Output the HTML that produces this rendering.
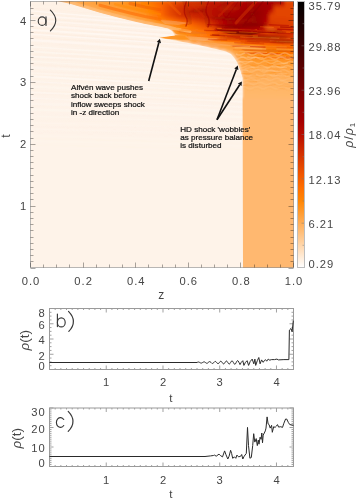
<!DOCTYPE html><html><head><meta charset="utf-8"><style>html,body{margin:0;padding:0;background:#fff;}svg{display:block}</style></head><body>
<svg width="357" height="499" viewBox="0 0 357 499" xmlns="http://www.w3.org/2000/svg">
<defs>
<linearGradient id="gtint" x1="0" y1="0" x2="0" y2="1"><stop offset="0" stop-color="#fde4d0" stop-opacity="0.12"/><stop offset="0.5" stop-color="#fde8d8" stop-opacity="0.05"/><stop offset="1" stop-color="#fef3e9" stop-opacity="0"/></linearGradient>
<linearGradient id="gcbar" x1="0" y1="0" x2="0" y2="1"><stop offset="0.000" stop-color="rgb(0,0,0)"/><stop offset="0.050" stop-color="rgb(18,0,0)"/><stop offset="0.100" stop-color="rgb(36,0,0)"/><stop offset="0.150" stop-color="rgb(55,0,0)"/><stop offset="0.200" stop-color="rgb(73,0,0)"/><stop offset="0.250" stop-color="rgb(92,0,0)"/><stop offset="0.300" stop-color="rgb(110,0,0)"/><stop offset="0.350" stop-color="rgb(129,0,0)"/><stop offset="0.400" stop-color="rgb(147,0,0)"/><stop offset="0.450" stop-color="rgb(166,0,0)"/><stop offset="0.500" stop-color="rgb(184,14,0)"/><stop offset="0.550" stop-color="rgb(203,38,0)"/><stop offset="0.600" stop-color="rgb(221,62,0)"/><stop offset="0.650" stop-color="rgb(240,86,0)"/><stop offset="0.700" stop-color="rgb(255,110,0)"/><stop offset="0.750" stop-color="rgb(255,134,4)"/><stop offset="0.800" stop-color="rgb(255,158,54)"/><stop offset="0.850" stop-color="rgb(255,182,104)"/><stop offset="0.900" stop-color="rgb(255,206,154)"/><stop offset="0.950" stop-color="rgb(255,230,204)"/><stop offset="1.000" stop-color="rgb(255,255,255)"/></linearGradient>
</defs>
<defs><linearGradient id="r0" gradientUnits="userSpaceOnUse" x1="50" y1="0" x2="298" y2="0"><stop offset="0.0000" stop-color="#ffddb8"/><stop offset="0.0262" stop-color="#ffddb8"/><stop offset="0.0423" stop-color="#ffaf58"/><stop offset="0.1210" stop-color="#ffa442"/><stop offset="0.2823" stop-color="#ff9626"/><stop offset="0.3629" stop-color="#ff8200"/><stop offset="0.4839" stop-color="#f25900"/><stop offset="0.5645" stop-color="#d83700"/><stop offset="0.6452" stop-color="#c41c00"/><stop offset="0.7661" stop-color="#b40800"/><stop offset="0.9113" stop-color="#a40000"/><stop offset="0.9395" stop-color="#aa0000"/><stop offset="0.9516" stop-color="#e34500"/><stop offset="1.0000" stop-color="#e34500"/></linearGradient>
<linearGradient id="r2" gradientUnits="userSpaceOnUse" x1="50" y1="0" x2="298" y2="0"><stop offset="0.0000" stop-color="#ffddb8"/><stop offset="0.0645" stop-color="#ffddb8"/><stop offset="0.0665" stop-color="#ffd9b0"/><stop offset="0.0806" stop-color="#ffac53"/><stop offset="0.0827" stop-color="#ffaa4e"/><stop offset="0.2823" stop-color="#ff9728"/><stop offset="0.3427" stop-color="#ff8a0b"/><stop offset="0.4032" stop-color="#ff7800"/><stop offset="0.5242" stop-color="#e04200"/><stop offset="0.6452" stop-color="#c11900"/><stop offset="0.8266" stop-color="#a90000"/><stop offset="0.8871" stop-color="#a60000"/><stop offset="0.9113" stop-color="#b60b00"/><stop offset="0.9395" stop-color="#ba1000"/><stop offset="0.9516" stop-color="#e34500"/><stop offset="1.0000" stop-color="#e34500"/></linearGradient>
<linearGradient id="r4" gradientUnits="userSpaceOnUse" x1="50" y1="0" x2="298" y2="0"><stop offset="0.0000" stop-color="#ffddb8"/><stop offset="0.0968" stop-color="#ffddb8"/><stop offset="0.1129" stop-color="#ffa84b"/><stop offset="0.1613" stop-color="#ffa647"/><stop offset="0.2823" stop-color="#ff982a"/><stop offset="0.3629" stop-color="#ff8706"/><stop offset="0.4032" stop-color="#ff7c00"/><stop offset="0.4435" stop-color="#fd6700"/><stop offset="0.4839" stop-color="#e94e00"/><stop offset="0.5242" stop-color="#db3b00"/><stop offset="0.6452" stop-color="#bf1600"/><stop offset="0.8266" stop-color="#a50000"/><stop offset="0.8871" stop-color="#a50000"/><stop offset="0.9113" stop-color="#c82200"/><stop offset="0.9395" stop-color="#ca2500"/><stop offset="0.9516" stop-color="#e34500"/><stop offset="1.0000" stop-color="#e34500"/></linearGradient>
<linearGradient id="r6" gradientUnits="userSpaceOnUse" x1="50" y1="0" x2="298" y2="0"><stop offset="0.0000" stop-color="#ffddb8"/><stop offset="0.1230" stop-color="#ffddb8"/><stop offset="0.1250" stop-color="#ffd9af"/><stop offset="0.1391" stop-color="#ffac52"/><stop offset="0.1411" stop-color="#ffaa4d"/><stop offset="0.1613" stop-color="#ffa94d"/><stop offset="0.2823" stop-color="#ff992c"/><stop offset="0.3427" stop-color="#ff8e15"/><stop offset="0.4032" stop-color="#ff8000"/><stop offset="0.4435" stop-color="#fd6700"/><stop offset="0.4839" stop-color="#e54800"/><stop offset="0.5242" stop-color="#d63400"/><stop offset="0.5645" stop-color="#cf2c00"/><stop offset="0.6250" stop-color="#c01700"/><stop offset="0.8266" stop-color="#a10000"/><stop offset="0.8871" stop-color="#a50000"/><stop offset="0.9113" stop-color="#da3900"/><stop offset="0.9395" stop-color="#db3a00"/><stop offset="0.9516" stop-color="#e34500"/><stop offset="1.0000" stop-color="#e34500"/></linearGradient>
<linearGradient id="r8" gradientUnits="userSpaceOnUse" x1="50" y1="0" x2="298" y2="0"><stop offset="0.0000" stop-color="#ffddb8"/><stop offset="0.1492" stop-color="#ffddb8"/><stop offset="0.1512" stop-color="#ffdbb4"/><stop offset="0.1653" stop-color="#ffae58"/><stop offset="0.1673" stop-color="#ffaa4f"/><stop offset="0.2903" stop-color="#ff9b2f"/><stop offset="0.3427" stop-color="#ff921c"/><stop offset="0.4032" stop-color="#ff8300"/><stop offset="0.4435" stop-color="#fd6800"/><stop offset="0.4839" stop-color="#e34600"/><stop offset="0.5242" stop-color="#d33100"/><stop offset="0.5645" stop-color="#ce2900"/><stop offset="0.6250" stop-color="#be1500"/><stop offset="0.8266" stop-color="#9f0000"/><stop offset="0.8710" stop-color="#a30000"/><stop offset="0.8871" stop-color="#ab0000"/><stop offset="0.8911" stop-color="#b50a00"/><stop offset="0.9113" stop-color="#e34500"/><stop offset="1.0000" stop-color="#e34500"/></linearGradient>
<linearGradient id="r10" gradientUnits="userSpaceOnUse" x1="50" y1="0" x2="298" y2="0"><stop offset="0.0000" stop-color="#ffddb8"/><stop offset="0.1774" stop-color="#ffddb8"/><stop offset="0.1935" stop-color="#ffa84a"/><stop offset="0.2903" stop-color="#ff9f38"/><stop offset="0.3831" stop-color="#ff8c11"/><stop offset="0.4032" stop-color="#ff8501"/><stop offset="0.4435" stop-color="#ff6900"/><stop offset="0.4839" stop-color="#e54800"/><stop offset="0.5242" stop-color="#d33100"/><stop offset="0.5645" stop-color="#cd2900"/><stop offset="0.6250" stop-color="#be1500"/><stop offset="0.7258" stop-color="#ab0000"/><stop offset="0.8266" stop-color="#9e0000"/><stop offset="0.8387" stop-color="#9e0000"/><stop offset="0.8710" stop-color="#a30000"/><stop offset="0.8871" stop-color="#b70c00"/><stop offset="0.8911" stop-color="#c21b00"/><stop offset="0.9113" stop-color="#e34500"/><stop offset="1.0000" stop-color="#e34500"/></linearGradient>
<linearGradient id="r12" gradientUnits="userSpaceOnUse" x1="50" y1="0" x2="298" y2="0"><stop offset="0.0000" stop-color="#ffddb8"/><stop offset="0.2036" stop-color="#ffddb8"/><stop offset="0.2056" stop-color="#ffdab1"/><stop offset="0.2198" stop-color="#ffab51"/><stop offset="0.2218" stop-color="#ffa84a"/><stop offset="0.2903" stop-color="#ffa442"/><stop offset="0.3831" stop-color="#ff9019"/><stop offset="0.4032" stop-color="#ff8604"/><stop offset="0.4435" stop-color="#ff6b00"/><stop offset="0.4839" stop-color="#e64900"/><stop offset="0.5242" stop-color="#d33100"/><stop offset="0.5645" stop-color="#cc2800"/><stop offset="0.7258" stop-color="#a80000"/><stop offset="0.8387" stop-color="#9c0000"/><stop offset="0.8710" stop-color="#a40000"/><stop offset="0.8871" stop-color="#c41c00"/><stop offset="0.8911" stop-color="#cf2c00"/><stop offset="0.9113" stop-color="#e34500"/><stop offset="1.0000" stop-color="#e34500"/></linearGradient>
<linearGradient id="r14" gradientUnits="userSpaceOnUse" x1="50" y1="0" x2="298" y2="0"><stop offset="0.0000" stop-color="#ffddb8"/><stop offset="0.2339" stop-color="#ffddb8"/><stop offset="0.2359" stop-color="#ffdab2"/><stop offset="0.2500" stop-color="#ffac54"/><stop offset="0.2520" stop-color="#ffa94d"/><stop offset="0.2903" stop-color="#ffa84b"/><stop offset="0.3831" stop-color="#ff9422"/><stop offset="0.4435" stop-color="#ff6d00"/><stop offset="0.4839" stop-color="#e74b00"/><stop offset="0.5242" stop-color="#d33100"/><stop offset="0.6048" stop-color="#c41c00"/><stop offset="0.7258" stop-color="#a60000"/><stop offset="0.8387" stop-color="#9b0000"/><stop offset="0.8710" stop-color="#a40000"/><stop offset="0.8911" stop-color="#dc3d00"/><stop offset="0.9113" stop-color="#e34500"/><stop offset="1.0000" stop-color="#e34500"/></linearGradient>
<linearGradient id="r16" gradientUnits="userSpaceOnUse" x1="50" y1="0" x2="298" y2="0"><stop offset="0.0000" stop-color="#ffddb8"/><stop offset="0.2641" stop-color="#ffddb8"/><stop offset="0.2661" stop-color="#ffdbb3"/><stop offset="0.2802" stop-color="#ffaf58"/><stop offset="0.2823" stop-color="#ffab50"/><stop offset="0.3831" stop-color="#ff992b"/><stop offset="0.4435" stop-color="#ff7400"/><stop offset="0.4839" stop-color="#ee5400"/><stop offset="0.5242" stop-color="#da3a00"/><stop offset="0.6048" stop-color="#c92300"/><stop offset="0.7258" stop-color="#a50000"/><stop offset="0.7863" stop-color="#9d0000"/><stop offset="0.8387" stop-color="#9a0000"/><stop offset="0.8548" stop-color="#9f0000"/><stop offset="0.8710" stop-color="#a70000"/><stop offset="0.8911" stop-color="#e24300"/><stop offset="1.0000" stop-color="#e24400"/></linearGradient>
<linearGradient id="r18" gradientUnits="userSpaceOnUse" x1="50" y1="0" x2="298" y2="0"><stop offset="0.0000" stop-color="#ffddb8"/><stop offset="0.2964" stop-color="#ffddb8"/><stop offset="0.2984" stop-color="#ffdcb6"/><stop offset="0.3145" stop-color="#ffa749"/><stop offset="0.3831" stop-color="#ff9e36"/><stop offset="0.4032" stop-color="#ff9624"/><stop offset="0.4435" stop-color="#ff7f00"/><stop offset="0.4839" stop-color="#fb6400"/><stop offset="0.5242" stop-color="#e84c00"/><stop offset="0.6250" stop-color="#cc2700"/><stop offset="0.7056" stop-color="#ab0000"/><stop offset="0.7258" stop-color="#a50000"/><stop offset="0.7863" stop-color="#990000"/><stop offset="0.8387" stop-color="#9a0000"/><stop offset="0.8548" stop-color="#9f0000"/><stop offset="0.8710" stop-color="#ad0000"/><stop offset="0.8871" stop-color="#d73600"/><stop offset="0.8911" stop-color="#df4000"/><stop offset="1.0000" stop-color="#e14200"/></linearGradient>
<linearGradient id="r20" gradientUnits="userSpaceOnUse" x1="50" y1="0" x2="298" y2="0"><stop offset="0.0000" stop-color="#ffddb8"/><stop offset="0.3306" stop-color="#ffddb8"/><stop offset="0.3327" stop-color="#ffd8ae"/><stop offset="0.3468" stop-color="#ffa84a"/><stop offset="0.3488" stop-color="#ffa646"/><stop offset="0.3831" stop-color="#ffa340"/><stop offset="0.4032" stop-color="#ff9e36"/><stop offset="0.4435" stop-color="#ff8b0f"/><stop offset="0.5242" stop-color="#f65e00"/><stop offset="0.5645" stop-color="#ea4f00"/><stop offset="0.6250" stop-color="#d53300"/><stop offset="0.7056" stop-color="#ad0000"/><stop offset="0.7863" stop-color="#950000"/><stop offset="0.8387" stop-color="#9b0000"/><stop offset="0.8548" stop-color="#9f0000"/><stop offset="0.8710" stop-color="#b30700"/><stop offset="0.8871" stop-color="#d83600"/><stop offset="0.8911" stop-color="#dd3d00"/><stop offset="0.9274" stop-color="#e04100"/><stop offset="1.0000" stop-color="#e04100"/></linearGradient>
<linearGradient id="r22" gradientUnits="userSpaceOnUse" x1="50" y1="0" x2="298" y2="0"><stop offset="0.0000" stop-color="#ffddb8"/><stop offset="0.3649" stop-color="#ffddb8"/><stop offset="0.3669" stop-color="#ffd9b1"/><stop offset="0.3810" stop-color="#ffab51"/><stop offset="0.3831" stop-color="#ffa84b"/><stop offset="0.4032" stop-color="#ffa747"/><stop offset="0.4435" stop-color="#ff9727"/><stop offset="0.5645" stop-color="#f75f00"/><stop offset="0.6250" stop-color="#de3f00"/><stop offset="0.7056" stop-color="#ae0000"/><stop offset="0.7863" stop-color="#910000"/><stop offset="0.8548" stop-color="#9f0000"/><stop offset="0.8710" stop-color="#b90e00"/><stop offset="0.8871" stop-color="#d83700"/><stop offset="0.8911" stop-color="#da3a00"/><stop offset="0.9274" stop-color="#de3f00"/><stop offset="1.0000" stop-color="#de3f00"/></linearGradient>
<linearGradient id="r24" gradientUnits="userSpaceOnUse" x1="50" y1="0" x2="298" y2="0"><stop offset="0.0000" stop-color="#ffddb8"/><stop offset="0.4032" stop-color="#ffddb8"/><stop offset="0.4052" stop-color="#ffdbb4"/><stop offset="0.4214" stop-color="#ffa543"/><stop offset="0.4839" stop-color="#ff8f17"/><stop offset="0.5242" stop-color="#ff7e00"/><stop offset="0.5645" stop-color="#ff6b00"/><stop offset="0.6250" stop-color="#e74a00"/><stop offset="0.7056" stop-color="#b30600"/><stop offset="0.7661" stop-color="#980000"/><stop offset="0.7863" stop-color="#920000"/><stop offset="0.8548" stop-color="#a40000"/><stop offset="0.8871" stop-color="#d83700"/><stop offset="0.9274" stop-color="#dd3d00"/><stop offset="1.0000" stop-color="#dd3d00"/></linearGradient>
<linearGradient id="r26" gradientUnits="userSpaceOnUse" x1="50" y1="0" x2="298" y2="0"><stop offset="0.0000" stop-color="#ffddb8"/><stop offset="0.4456" stop-color="#ffddb8"/><stop offset="0.4476" stop-color="#ffdcb6"/><stop offset="0.4637" stop-color="#ff9a2e"/><stop offset="0.5242" stop-color="#ff8706"/><stop offset="0.6250" stop-color="#ef5500"/><stop offset="0.6452" stop-color="#e44700"/><stop offset="0.7056" stop-color="#ba1000"/><stop offset="0.7661" stop-color="#980000"/><stop offset="0.7863" stop-color="#960000"/><stop offset="0.8266" stop-color="#a10000"/><stop offset="0.8548" stop-color="#ad0000"/><stop offset="0.8790" stop-color="#cf2c00"/><stop offset="0.8871" stop-color="#d83700"/><stop offset="0.9274" stop-color="#dc3c00"/><stop offset="1.0000" stop-color="#dc3c00"/></linearGradient>
<linearGradient id="r28" gradientUnits="userSpaceOnUse" x1="50" y1="0" x2="298" y2="0"><stop offset="0.0000" stop-color="#ffddb8"/><stop offset="0.4778" stop-color="#ffddb8"/><stop offset="0.4798" stop-color="#ffdab1"/><stop offset="0.4940" stop-color="#ff9e35"/><stop offset="0.4960" stop-color="#ff9829"/><stop offset="0.5242" stop-color="#ff9018"/><stop offset="0.5403" stop-color="#ff8909"/><stop offset="0.6250" stop-color="#f76000"/><stop offset="0.6452" stop-color="#ee5400"/><stop offset="0.7056" stop-color="#c21b00"/><stop offset="0.7661" stop-color="#990000"/><stop offset="0.7863" stop-color="#9a0000"/><stop offset="0.8266" stop-color="#a60000"/><stop offset="0.8548" stop-color="#b70c00"/><stop offset="0.8790" stop-color="#d33000"/><stop offset="0.8871" stop-color="#d83700"/><stop offset="0.9274" stop-color="#da3a00"/><stop offset="1.0000" stop-color="#da3a00"/></linearGradient>
<linearGradient id="r30" gradientUnits="userSpaceOnUse" x1="50" y1="0" x2="298" y2="0"><stop offset="0.0000" stop-color="#ffddb8"/><stop offset="0.4919" stop-color="#ffddb8"/><stop offset="0.5081" stop-color="#ff9c32"/><stop offset="0.5242" stop-color="#ff992b"/><stop offset="0.6452" stop-color="#f86100"/><stop offset="0.7056" stop-color="#ca2500"/><stop offset="0.7661" stop-color="#9a0000"/><stop offset="0.8266" stop-color="#ac0000"/><stop offset="0.8548" stop-color="#c01800"/><stop offset="0.8790" stop-color="#d73500"/><stop offset="0.8871" stop-color="#d83700"/><stop offset="1.0000" stop-color="#d93800"/></linearGradient>
<linearGradient id="r32" gradientUnits="userSpaceOnUse" x1="50" y1="0" x2="298" y2="0"><stop offset="0.0000" stop-color="#ffddb8"/><stop offset="0.4960" stop-color="#ffddb8"/><stop offset="0.4980" stop-color="#ffdbb3"/><stop offset="0.5121" stop-color="#ffa647"/><stop offset="0.5141" stop-color="#ffa13c"/><stop offset="0.5242" stop-color="#ff9f38"/><stop offset="0.5444" stop-color="#ff9727"/><stop offset="0.6452" stop-color="#ff6a00"/><stop offset="0.7056" stop-color="#d43100"/><stop offset="0.7661" stop-color="#a50000"/><stop offset="0.8266" stop-color="#b50a00"/><stop offset="0.8790" stop-color="#d83700"/><stop offset="1.0000" stop-color="#d83700"/></linearGradient>
<linearGradient id="r34" gradientUnits="userSpaceOnUse" x1="50" y1="0" x2="298" y2="0"><stop offset="0.0000" stop-color="#ffddb8"/><stop offset="0.5020" stop-color="#ffddb8"/><stop offset="0.5040" stop-color="#ffd8af"/><stop offset="0.5181" stop-color="#ffa748"/><stop offset="0.5202" stop-color="#ffa442"/><stop offset="0.5444" stop-color="#ff9d33"/><stop offset="0.6452" stop-color="#ff6f00"/><stop offset="0.7661" stop-color="#ba1000"/><stop offset="0.8266" stop-color="#c21b00"/><stop offset="0.8790" stop-color="#d83700"/><stop offset="1.0000" stop-color="#d63500"/></linearGradient>
<linearGradient id="r36" gradientUnits="userSpaceOnUse" x1="50" y1="0" x2="298" y2="0"><stop offset="0.0000" stop-color="#ffddb8"/><stop offset="0.5040" stop-color="#ffddb8"/><stop offset="0.5202" stop-color="#ffa84b"/><stop offset="0.5444" stop-color="#ffa23e"/><stop offset="0.6452" stop-color="#ff7500"/><stop offset="0.7661" stop-color="#d02d00"/><stop offset="0.8266" stop-color="#cf2c00"/><stop offset="0.8669" stop-color="#d53300"/><stop offset="0.8790" stop-color="#d83700"/><stop offset="1.0000" stop-color="#d53300"/></linearGradient>
<linearGradient id="r38" gradientUnits="userSpaceOnUse" x1="50" y1="0" x2="298" y2="0"><stop offset="0.0000" stop-color="#ffddb8"/><stop offset="0.5040" stop-color="#ffddb8"/><stop offset="0.5202" stop-color="#ffad54"/><stop offset="0.5444" stop-color="#ffa84a"/><stop offset="0.7258" stop-color="#f05700"/><stop offset="0.7661" stop-color="#e64900"/><stop offset="0.8669" stop-color="#d73600"/><stop offset="1.0000" stop-color="#d43100"/></linearGradient>
<linearGradient id="r40" gradientUnits="userSpaceOnUse" x1="50" y1="0" x2="298" y2="0"><stop offset="0.0000" stop-color="#ffddb8"/><stop offset="0.5141" stop-color="#ffddb8"/><stop offset="0.5161" stop-color="#ffdab1"/><stop offset="0.5302" stop-color="#ffb05b"/><stop offset="0.5323" stop-color="#ffad55"/><stop offset="0.5444" stop-color="#ffac52"/><stop offset="0.6653" stop-color="#ff7c00"/><stop offset="0.7258" stop-color="#fe6900"/><stop offset="0.7863" stop-color="#f45b00"/><stop offset="0.8669" stop-color="#e04100"/><stop offset="1.0000" stop-color="#da3900"/></linearGradient>
<linearGradient id="r42" gradientUnits="userSpaceOnUse" x1="50" y1="0" x2="298" y2="0"><stop offset="0.0000" stop-color="#ffddb8"/><stop offset="0.5585" stop-color="#ffddb8"/><stop offset="0.5746" stop-color="#ffa544"/><stop offset="0.5766" stop-color="#ffa443"/><stop offset="0.6653" stop-color="#ff8a0b"/><stop offset="0.7258" stop-color="#ff7a00"/><stop offset="0.7863" stop-color="#ff6d00"/><stop offset="0.8669" stop-color="#ef5500"/><stop offset="1.0000" stop-color="#e74a00"/></linearGradient>
<linearGradient id="r44" gradientUnits="userSpaceOnUse" x1="50" y1="0" x2="298" y2="0"><stop offset="0.0000" stop-color="#ffddb8"/><stop offset="0.5968" stop-color="#ffddb8"/><stop offset="0.5988" stop-color="#ffddb8"/><stop offset="0.6149" stop-color="#ffa340"/><stop offset="0.7863" stop-color="#ff7f00"/><stop offset="0.8669" stop-color="#ff6900"/><stop offset="1.0000" stop-color="#f45b00"/></linearGradient>
<linearGradient id="r46" gradientUnits="userSpaceOnUse" x1="50" y1="0" x2="298" y2="0"><stop offset="0.0000" stop-color="#ffddb8"/><stop offset="0.6331" stop-color="#ffddb8"/><stop offset="0.6351" stop-color="#ffd9b0"/><stop offset="0.6492" stop-color="#ffab50"/><stop offset="0.6512" stop-color="#ffa84b"/><stop offset="0.8065" stop-color="#ff8d12"/><stop offset="0.8871" stop-color="#ff7900"/><stop offset="1.0000" stop-color="#ff6c00"/></linearGradient>
<linearGradient id="r48" gradientUnits="userSpaceOnUse" x1="50" y1="0" x2="298" y2="0"><stop offset="0.0000" stop-color="#ffddb8"/><stop offset="0.6673" stop-color="#ffddb8"/><stop offset="0.6694" stop-color="#ffdbb4"/><stop offset="0.6835" stop-color="#ffb05a"/><stop offset="0.6855" stop-color="#ffac52"/><stop offset="0.8065" stop-color="#ff9624"/><stop offset="0.8871" stop-color="#ff8300"/><stop offset="1.0000" stop-color="#ff7600"/></linearGradient>
<linearGradient id="r50" gradientUnits="userSpaceOnUse" x1="50" y1="0" x2="298" y2="0"><stop offset="0.0000" stop-color="#ffddb8"/><stop offset="0.6996" stop-color="#ffddb8"/><stop offset="0.7016" stop-color="#ffdcb7"/><stop offset="0.7157" stop-color="#ffaf58"/><stop offset="0.7177" stop-color="#ffaa4e"/><stop offset="0.8266" stop-color="#ff8e15"/><stop offset="0.8871" stop-color="#ff8400"/><stop offset="1.0000" stop-color="#ff7a00"/></linearGradient>
<linearGradient id="r52" gradientUnits="userSpaceOnUse" x1="50" y1="0" x2="298" y2="0"><stop offset="0.0000" stop-color="#ffddb8"/><stop offset="0.7218" stop-color="#ffddb8"/><stop offset="0.7359" stop-color="#ffaa4f"/><stop offset="0.7661" stop-color="#ff9d34"/><stop offset="0.8266" stop-color="#ff8c10"/><stop offset="0.8871" stop-color="#ff8501"/><stop offset="1.0000" stop-color="#ff7d00"/></linearGradient>
<linearGradient id="r54" gradientUnits="userSpaceOnUse" x1="50" y1="0" x2="298" y2="0"><stop offset="0.0000" stop-color="#ffddb8"/><stop offset="0.7319" stop-color="#ffddb8"/><stop offset="0.7339" stop-color="#ffdbb4"/><stop offset="0.7460" stop-color="#ffaa4f"/><stop offset="0.7480" stop-color="#ffa645"/><stop offset="0.7661" stop-color="#ff9d34"/><stop offset="0.8266" stop-color="#ff8a0c"/><stop offset="1.0000" stop-color="#ff8000"/></linearGradient>
<linearGradient id="r56" gradientUnits="userSpaceOnUse" x1="50" y1="0" x2="298" y2="0"><stop offset="0.0000" stop-color="#ffddb8"/><stop offset="0.7399" stop-color="#ffddb8"/><stop offset="0.7440" stop-color="#ffce98"/><stop offset="0.7520" stop-color="#ffa94c"/><stop offset="0.7540" stop-color="#ffa544"/><stop offset="0.7823" stop-color="#ff992c"/><stop offset="0.8266" stop-color="#ff8c0f"/><stop offset="1.0000" stop-color="#ff8503"/></linearGradient>
<linearGradient id="r58" gradientUnits="userSpaceOnUse" x1="50" y1="0" x2="298" y2="0"><stop offset="0.0000" stop-color="#ffddb8"/><stop offset="0.7460" stop-color="#ffddb8"/><stop offset="0.7581" stop-color="#ffa646"/><stop offset="0.7823" stop-color="#ff9c32"/><stop offset="0.8266" stop-color="#ff911b"/><stop offset="1.0000" stop-color="#ff8c11"/></linearGradient>
<linearGradient id="r60" gradientUnits="userSpaceOnUse" x1="50" y1="0" x2="298" y2="0"><stop offset="0.0000" stop-color="#ffddb8"/><stop offset="0.7500" stop-color="#ffddb8"/><stop offset="0.7520" stop-color="#ffdab2"/><stop offset="0.7621" stop-color="#ffa749"/><stop offset="0.7823" stop-color="#ff9f38"/><stop offset="0.8468" stop-color="#ff9523"/><stop offset="1.0000" stop-color="#ff931f"/></linearGradient>
<linearGradient id="r62" gradientUnits="userSpaceOnUse" x1="50" y1="0" x2="298" y2="0"><stop offset="0.0000" stop-color="#ffddb8"/><stop offset="0.7540" stop-color="#ffddb8"/><stop offset="0.7560" stop-color="#ffdbb4"/><stop offset="0.7641" stop-color="#ffaf59"/><stop offset="0.7661" stop-color="#ffa94c"/><stop offset="0.7823" stop-color="#ffa23f"/><stop offset="0.8468" stop-color="#ff9b2e"/><stop offset="1.0000" stop-color="#ff9a2d"/></linearGradient>
<linearGradient id="r64" gradientUnits="userSpaceOnUse" x1="50" y1="0" x2="298" y2="0"><stop offset="0.0000" stop-color="#ffddb8"/><stop offset="0.7581" stop-color="#ffddb8"/><stop offset="0.7601" stop-color="#ffd6aa"/><stop offset="0.7661" stop-color="#ffb25f"/><stop offset="0.7681" stop-color="#ffab50"/><stop offset="0.7823" stop-color="#ffa544"/><stop offset="0.8468" stop-color="#ff9f37"/><stop offset="1.0000" stop-color="#ff9e36"/></linearGradient>
<linearGradient id="r66" gradientUnits="userSpaceOnUse" x1="50" y1="0" x2="298" y2="0"><stop offset="0.0000" stop-color="#ffddb8"/><stop offset="0.7621" stop-color="#ffddb8"/><stop offset="0.7681" stop-color="#ffb565"/><stop offset="0.7702" stop-color="#ffab51"/><stop offset="0.7823" stop-color="#ffa749"/><stop offset="0.8468" stop-color="#ffa23d"/><stop offset="1.0000" stop-color="#ffa13c"/></linearGradient>
<linearGradient id="r68" gradientUnits="userSpaceOnUse" x1="50" y1="0" x2="298" y2="0"><stop offset="0.0000" stop-color="#ffddb8"/><stop offset="0.7641" stop-color="#ffddb8"/><stop offset="0.7661" stop-color="#ffd7ac"/><stop offset="0.7702" stop-color="#ffb86c"/><stop offset="0.7722" stop-color="#ffac54"/><stop offset="0.7823" stop-color="#ffaa4e"/><stop offset="0.8468" stop-color="#ffa544"/><stop offset="1.0000" stop-color="#ffa341"/></linearGradient>
<linearGradient id="r70" gradientUnits="userSpaceOnUse" x1="50" y1="0" x2="298" y2="0"><stop offset="0.0000" stop-color="#ffddb8"/><stop offset="0.7681" stop-color="#ffddb8"/><stop offset="0.7742" stop-color="#ffae56"/><stop offset="0.8468" stop-color="#ffa84a"/><stop offset="1.0000" stop-color="#ffa646"/></linearGradient>
<linearGradient id="r72" gradientUnits="userSpaceOnUse" x1="50" y1="0" x2="298" y2="0"><stop offset="0.0000" stop-color="#ffddb8"/><stop offset="0.7702" stop-color="#ffddb8"/><stop offset="0.7722" stop-color="#ffd3a4"/><stop offset="0.7742" stop-color="#ffbd77"/><stop offset="0.7762" stop-color="#ffaf59"/><stop offset="0.8468" stop-color="#ffab50"/><stop offset="1.0000" stop-color="#ffa94b"/></linearGradient>
<linearGradient id="r74" gradientUnits="userSpaceOnUse" x1="50" y1="0" x2="298" y2="0"><stop offset="0.0000" stop-color="#ffddb8"/><stop offset="0.7722" stop-color="#ffddb8"/><stop offset="0.7742" stop-color="#ffd2a2"/><stop offset="0.7762" stop-color="#ffb769"/><stop offset="0.7782" stop-color="#ffb15d"/><stop offset="1.0000" stop-color="#ffab51"/></linearGradient>
<linearGradient id="r76" gradientUnits="userSpaceOnUse" x1="50" y1="0" x2="298" y2="0"><stop offset="0.0000" stop-color="#ffddb8"/><stop offset="0.7742" stop-color="#ffddb8"/><stop offset="0.7762" stop-color="#ffd4a6"/><stop offset="0.7782" stop-color="#ffba70"/><stop offset="0.7802" stop-color="#ffb361"/><stop offset="1.0000" stop-color="#ffae56"/></linearGradient>
<linearGradient id="r78" gradientUnits="userSpaceOnUse" x1="50" y1="0" x2="298" y2="0"><stop offset="0.0000" stop-color="#ffddb8"/><stop offset="0.7762" stop-color="#ffddb8"/><stop offset="0.7802" stop-color="#ffb464"/><stop offset="1.0000" stop-color="#ffaf5a"/></linearGradient>
<linearGradient id="r80" gradientUnits="userSpaceOnUse" x1="50" y1="0" x2="298" y2="0"><stop offset="0.0000" stop-color="#ffddb8"/><stop offset="0.7762" stop-color="#ffddb8"/><stop offset="0.7802" stop-color="#ffb565"/><stop offset="1.0000" stop-color="#ffb05c"/></linearGradient>
<linearGradient id="r82" gradientUnits="userSpaceOnUse" x1="50" y1="0" x2="298" y2="0"><stop offset="0.0000" stop-color="#ffddb8"/><stop offset="0.7762" stop-color="#ffddb8"/><stop offset="0.7802" stop-color="#ffb566"/><stop offset="1.0000" stop-color="#ffb15e"/></linearGradient>
<linearGradient id="r84" gradientUnits="userSpaceOnUse" x1="50" y1="0" x2="298" y2="0"><stop offset="0.0000" stop-color="#ffddb8"/><stop offset="0.7762" stop-color="#ffddb8"/><stop offset="0.7802" stop-color="#ffb667"/><stop offset="1.0000" stop-color="#ffb360"/></linearGradient>
<linearGradient id="r86" gradientUnits="userSpaceOnUse" x1="50" y1="0" x2="298" y2="0"><stop offset="0.0000" stop-color="#ffddb8"/><stop offset="0.7762" stop-color="#ffddb8"/><stop offset="0.7802" stop-color="#ffb668"/><stop offset="1.0000" stop-color="#ffb462"/></linearGradient>
<linearGradient id="r88" gradientUnits="userSpaceOnUse" x1="50" y1="0" x2="298" y2="0"><stop offset="0.0000" stop-color="#ffddb8"/><stop offset="0.7762" stop-color="#ffddb8"/><stop offset="0.7802" stop-color="#ffb769"/><stop offset="1.0000" stop-color="#ffb565"/></linearGradient>
<linearGradient id="r90" gradientUnits="userSpaceOnUse" x1="50" y1="0" x2="298" y2="0"><stop offset="0.0000" stop-color="#ffddb8"/><stop offset="0.7762" stop-color="#ffddb8"/><stop offset="0.7802" stop-color="#ffb76a"/><stop offset="1.0000" stop-color="#ffb667"/></linearGradient>
<linearGradient id="r92" gradientUnits="userSpaceOnUse" x1="50" y1="0" x2="298" y2="0"><stop offset="0.0000" stop-color="#ffddb8"/><stop offset="0.7762" stop-color="#ffddb8"/><stop offset="0.7802" stop-color="#ffb86b"/><stop offset="1.0000" stop-color="#ffb769"/></linearGradient>
<linearGradient id="r94" gradientUnits="userSpaceOnUse" x1="50" y1="0" x2="298" y2="0"><stop offset="0.0000" stop-color="#ffddb8"/><stop offset="0.7762" stop-color="#ffddb8"/><stop offset="0.7802" stop-color="#ffb86c"/><stop offset="1.0000" stop-color="#ffb86b"/></linearGradient>
<linearGradient id="r96" gradientUnits="userSpaceOnUse" x1="50" y1="0" x2="298" y2="0"><stop offset="0.0000" stop-color="#ffddb8"/><stop offset="0.7762" stop-color="#ffddb8"/><stop offset="0.7802" stop-color="#ffb86c"/><stop offset="1.0000" stop-color="#ffb86c"/></linearGradient>
<linearGradient id="r98" gradientUnits="userSpaceOnUse" x1="50" y1="0" x2="298" y2="0"><stop offset="0.0000" stop-color="#ffddb8"/><stop offset="0.7762" stop-color="#ffddb8"/><stop offset="0.7802" stop-color="#ffb86c"/><stop offset="1.0000" stop-color="#ffb86c"/></linearGradient></defs><clipPath id="ca"><rect x="30.5" y="1.5" width="263.0" height="266.0"/></clipPath>
<clipPath id="cw"><path d="M54,0.5 L59,1.5 L70,3.8 L85,8.3 L100,12.8 L115,16.8 L130,20.5 L145,24 L160,26.8 L168,28.5 L172,31 L175,35.5 L166,36.8 L159,37.7 L163,38.6 L175,40.5 L195,44.2 L215,48.8 L226,51.5 L231,54 L234,57.5 L237,62 L239,67 L241,72 L242.6,78 L242.6,100 L243,270 L296,270 L296,1 Z"/></clipPath>
<filter id="blur1" x="-5%" y="-5%" width="110%" height="110%"><feGaussianBlur stdDeviation="0.6"/></filter>
<filter id="blurh" x="-10%" y="-10%" width="120%" height="120%"><feGaussianBlur stdDeviation="1.5 0.8"/></filter>
<filter id="blurv" x="-5%" y="-5%" width="110%" height="110%"><feGaussianBlur stdDeviation="0.8 1.6"/></filter>
<g clip-path="url(#ca)">
<rect x="30.5" y="1.5" width="263.0" height="266.0" fill="#fef3e9"/>
<g filter="url(#blur1)">
<rect x="30.5" y="1.5" width="215" height="140" fill="url(#gtint)"/>
<path d="M31,8.0 Q136,16.9 243,26.0" stroke="#fbdcc4" stroke-width="1.2" fill="none" opacity="0.09"/>
<path d="M31,10.9 Q130,19.7 243,28.6" stroke="#fffaf6" stroke-width="1.1" fill="none" opacity="0.65"/>
<path d="M31,13.5 Q127,21.0 243,31.0" stroke="#fbdcc4" stroke-width="1.1" fill="none" opacity="0.06"/>
<path d="M31,15.4 Q148,23.2 243,32.7" stroke="#fffaf6" stroke-width="1.9" fill="none" opacity="0.57"/>
<path d="M31,18.0 Q144,26.0 243,35.0" stroke="#fbdcc4" stroke-width="1.1" fill="none" opacity="0.15"/>
<path d="M31,19.9 Q143,28.1 243,36.7" stroke="#fffaf6" stroke-width="1.5" fill="none" opacity="0.51"/>
<path d="M31,22.9 Q132,31.1 243,39.4" stroke="#fbdcc4" stroke-width="1.4" fill="none" opacity="0.11"/>
<path d="M31,24.7 Q127,32.4 243,41.0" stroke="#fffaf6" stroke-width="2.0" fill="none" opacity="0.53"/>
<path d="M31,27.7 Q142,34.6 243,43.7" stroke="#fbdcc4" stroke-width="1.4" fill="none" opacity="0.09"/>
<path d="M31,29.9 Q145,36.7 243,45.7" stroke="#fffaf6" stroke-width="1.8" fill="none" opacity="0.65"/>
<path d="M31,32.1 Q127,38.8 243,47.7" stroke="#fbdcc4" stroke-width="1.1" fill="none" opacity="0.13"/>
<path d="M31,34.1 Q137,40.7 243,49.5" stroke="#fffaf6" stroke-width="1.1" fill="none" opacity="0.59"/>
<path d="M31,37.1 Q138,43.7 243,52.2" stroke="#fbdcc4" stroke-width="1.4" fill="none" opacity="0.12"/>
<path d="M31,40.1 Q148,46.8 243,54.9" stroke="#fffaf6" stroke-width="2.3" fill="none" opacity="0.55"/>
<path d="M31,43.3 Q136,49.0 243,57.7" stroke="#fbdcc4" stroke-width="1.8" fill="none" opacity="0.05"/>
<path d="M31,46.8 Q137,53.9 243,61.0" stroke="#fffaf6" stroke-width="1.6" fill="none" opacity="0.47"/>
<path d="M31,49.5 Q112,55.3 243,63.4" stroke="#fbdcc4" stroke-width="1.1" fill="none" opacity="0.06"/>
<path d="M31,51.5 Q145,58.2 243,65.1" stroke="#fffaf6" stroke-width="1.6" fill="none" opacity="0.43"/>
<path d="M31,54.1 Q143,59.5 243,67.5" stroke="#fbdcc4" stroke-width="2.1" fill="none" opacity="0.08"/>
<path d="M31,56.4 Q145,61.5 243,69.6" stroke="#fffaf6" stroke-width="1.5" fill="none" opacity="0.47"/>
<path d="M31,58.4 Q119,64.1 243,71.3" stroke="#fbdcc4" stroke-width="1.3" fill="none" opacity="0.05"/>
<path d="M31,61.4 Q127,67.2 243,74.0" stroke="#fffaf6" stroke-width="1.0" fill="none" opacity="0.40"/>
<path d="M31,64.3 Q131,69.6 243,76.7" stroke="#fbdcc4" stroke-width="1.8" fill="none" opacity="0.10"/>
<path d="M31,67.6 Q141,72.3 243,79.6" stroke="#fffaf6" stroke-width="2.3" fill="none" opacity="0.32"/>
<path d="M31,71.1 Q114,76.0 243,82.8" stroke="#fbdcc4" stroke-width="1.5" fill="none" opacity="0.06"/>
<path d="M31,72.8 Q116,78.1 243,84.3" stroke="#fffaf6" stroke-width="1.3" fill="none" opacity="0.30"/>
<path d="M31,74.6 Q114,79.7 243,85.9" stroke="#fbdcc4" stroke-width="1.2" fill="none" opacity="0.03"/>
<path d="M31,76.2 Q116,81.4 243,87.4" stroke="#fffaf6" stroke-width="1.9" fill="none" opacity="0.49"/>
<path d="M31,78.7 Q144,82.6 243,89.6" stroke="#fbdcc4" stroke-width="1.1" fill="none" opacity="0.05"/>
<path d="M31,81.4 Q114,86.2 243,92.0" stroke="#fffaf6" stroke-width="1.1" fill="none" opacity="0.37"/>
<path d="M31,83.6 Q111,87.4 243,94.0" stroke="#fbdcc4" stroke-width="1.2" fill="none" opacity="0.07"/>
<path d="M31,86.5 Q111,90.8 243,96.6" stroke="#fffaf6" stroke-width="1.8" fill="none" opacity="0.27"/>
<path d="M31,90.4 Q120,94.7 243,100.2" stroke="#fbdcc4" stroke-width="1.8" fill="none" opacity="0.07"/>
<path d="M31,92.4 Q141,96.7 243,102.0" stroke="#fffaf6" stroke-width="1.8" fill="none" opacity="0.37"/>
<path d="M31,94.6 Q144,98.0 243,103.9" stroke="#fbdcc4" stroke-width="2.2" fill="none" opacity="0.06"/>
<path d="M31,98.1 Q131,102.1 243,107.1" stroke="#fffaf6" stroke-width="1.3" fill="none" opacity="0.33"/>
<path d="M31,99.8 Q120,103.2 243,108.6" stroke="#fbdcc4" stroke-width="1.3" fill="none" opacity="0.02"/>
<path d="M31,103.7 Q150,106.5 243,112.1" stroke="#fffaf6" stroke-width="2.4" fill="none" opacity="0.25"/>
<path d="M31,106.2 Q118,109.9 243,114.3" stroke="#fbdcc4" stroke-width="1.3" fill="none" opacity="0.03"/>
<path d="M31,109.3 Q129,112.2 243,117.1" stroke="#fffaf6" stroke-width="2.3" fill="none" opacity="0.29"/>
<path d="M31,112.8 Q146,115.4 243,120.3" stroke="#fbdcc4" stroke-width="1.8" fill="none" opacity="0.02"/>
<path d="M31,116.2 Q142,119.3 243,123.4" stroke="#fffaf6" stroke-width="1.3" fill="none" opacity="0.20"/>
<path d="M31,119.7 Q126,121.7 243,126.5" stroke="#fbdcc4" stroke-width="1.5" fill="none" opacity="0.04"/>
<path d="M31,123.0 Q116,124.9 243,129.5" stroke="#fffaf6" stroke-width="1.2" fill="none" opacity="0.13"/>
<path d="M31,126.6 Q149,128.7 243,132.7" stroke="#fbdcc4" stroke-width="2.0" fill="none" opacity="0.02"/>
<path d="M31,129.0 Q111,130.5 243,134.9" stroke="#fffaf6" stroke-width="1.2" fill="none" opacity="0.14"/>
<path d="M31,132.2 Q127,133.7 243,137.8" stroke="#fbdcc4" stroke-width="2.1" fill="none" opacity="0.02"/>
<path d="M31,135.8 Q122,138.0 243,141.0" stroke="#fffaf6" stroke-width="1.4" fill="none" opacity="0.09"/>
<path d="M31,138.8 Q115,139.9 243,143.7" stroke="#fbdcc4" stroke-width="1.5" fill="none" opacity="0.01"/>
<path d="M31,141.2 Q146,142.9 243,145.9" stroke="#fffaf6" stroke-width="1.9" fill="none" opacity="0.08"/>
<path d="M31,145.0 Q131,147.1 243,149.3" stroke="#fbdcc4" stroke-width="1.6" fill="none" opacity="0.01"/>
<path d="M31,147.7 Q142,149.4 243,151.7" stroke="#fffaf6" stroke-width="1.0" fill="none" opacity="0.04"/>
</g>
<g clip-path="url(#cw)"><g filter="url(#blurv)">
<rect x="40" y="0" width="260" height="2.2" fill="url(#r0)"/>
<rect x="40" y="2" width="260" height="2.2" fill="url(#r2)"/>
<rect x="40" y="4" width="260" height="2.2" fill="url(#r4)"/>
<rect x="40" y="6" width="260" height="2.2" fill="url(#r6)"/>
<rect x="40" y="8" width="260" height="2.2" fill="url(#r8)"/>
<rect x="40" y="10" width="260" height="2.2" fill="url(#r10)"/>
<rect x="40" y="12" width="260" height="2.2" fill="url(#r12)"/>
<rect x="40" y="14" width="260" height="2.2" fill="url(#r14)"/>
<rect x="40" y="16" width="260" height="2.2" fill="url(#r16)"/>
<rect x="40" y="18" width="260" height="2.2" fill="url(#r18)"/>
<rect x="40" y="20" width="260" height="2.2" fill="url(#r20)"/>
<rect x="40" y="22" width="260" height="2.2" fill="url(#r22)"/>
<rect x="40" y="24" width="260" height="2.2" fill="url(#r24)"/>
<rect x="40" y="26" width="260" height="2.2" fill="url(#r26)"/>
<rect x="40" y="28" width="260" height="2.2" fill="url(#r28)"/>
<rect x="40" y="30" width="260" height="2.2" fill="url(#r30)"/>
<rect x="40" y="32" width="260" height="2.2" fill="url(#r32)"/>
<rect x="40" y="34" width="260" height="2.2" fill="url(#r34)"/>
<rect x="40" y="36" width="260" height="2.2" fill="url(#r36)"/>
<rect x="40" y="38" width="260" height="2.2" fill="url(#r38)"/>
<rect x="40" y="40" width="260" height="2.2" fill="url(#r40)"/>
<rect x="40" y="42" width="260" height="2.2" fill="url(#r42)"/>
<rect x="40" y="44" width="260" height="2.2" fill="url(#r44)"/>
<rect x="40" y="46" width="260" height="2.2" fill="url(#r46)"/>
<rect x="40" y="48" width="260" height="2.2" fill="url(#r48)"/>
<rect x="40" y="50" width="260" height="2.2" fill="url(#r50)"/>
<rect x="40" y="52" width="260" height="2.2" fill="url(#r52)"/>
<rect x="40" y="54" width="260" height="2.2" fill="url(#r54)"/>
<rect x="40" y="56" width="260" height="2.2" fill="url(#r56)"/>
<rect x="40" y="58" width="260" height="2.2" fill="url(#r58)"/>
<rect x="40" y="60" width="260" height="2.2" fill="url(#r60)"/>
<rect x="40" y="62" width="260" height="2.2" fill="url(#r62)"/>
<rect x="40" y="64" width="260" height="2.2" fill="url(#r64)"/>
<rect x="40" y="66" width="260" height="2.2" fill="url(#r66)"/>
<rect x="40" y="68" width="260" height="2.2" fill="url(#r68)"/>
<rect x="40" y="70" width="260" height="2.2" fill="url(#r70)"/>
<rect x="40" y="72" width="260" height="2.2" fill="url(#r72)"/>
<rect x="40" y="74" width="260" height="2.2" fill="url(#r74)"/>
<rect x="40" y="76" width="260" height="2.2" fill="url(#r76)"/>
<rect x="40" y="78" width="260" height="2.2" fill="url(#r78)"/>
<rect x="40" y="80" width="260" height="2.2" fill="url(#r80)"/>
<rect x="40" y="82" width="260" height="2.2" fill="url(#r82)"/>
<rect x="40" y="84" width="260" height="2.2" fill="url(#r84)"/>
<rect x="40" y="86" width="260" height="2.2" fill="url(#r86)"/>
<rect x="40" y="88" width="260" height="2.2" fill="url(#r88)"/>
<rect x="40" y="90" width="260" height="2.2" fill="url(#r90)"/>
<rect x="40" y="92" width="260" height="2.2" fill="url(#r92)"/>
<rect x="40" y="94" width="260" height="2.2" fill="url(#r94)"/>
<rect x="40" y="96" width="260" height="2.2" fill="url(#r96)"/>
<rect x="40" y="98" width="260" height="2.2" fill="url(#r98)"/>
<rect x="240" y="98" width="60" height="175" fill="#ffb870"/>
</g><g filter="url(#blur1)">
<path d="M182,1 L186,1 L188,8 L191,16 L192,24 L188,25 L187,17 L184,8 Z" fill="#a02206" opacity="0.25"/>
<path d="M200,1 L205,1 L206,10 L210,20 L212,27 L206,27 L204,18 L201,8 Z" fill="#a02206" opacity="0.25"/>
<path d="M220,1 L226,1 L228,10 L232,20 L234,28 L228,27 L225,17 L222,8 Z" fill="#901e04" opacity="0.22"/>
<path d="M246,1 L252,1 L254,10 L256,18 L258,26 L252,25 L250,17 L247,8 Z" fill="#901e04" opacity="0.2"/>
<path d="M215,28.5 L232,30 L250,31.5 L266,32 L250,35 L232,34.5 L218,31 Z" fill="#6a1002" opacity="0.6"/>
<path d="M245,39 L270,38.5 L296,40 L296,43 L270,42.5 L250,42 Z" fill="#b03a10" opacity="0.45"/>
<path d="M240,48.5 L260,49 L280,49.5 L296,50 L296,52 L270,52 L245,51 Z" fill="#d05818" opacity="0.4"/>
<path d="M160,20 L175,21 L190,23 L178,25 L165,24 Z" fill="#fab070" opacity="0.45"/>
<path d="M159,37.8 L166,36.6 L175,35.2 L188,35.5 L190,39.5 L178,39.8 L166,38.7 Z" fill="#ff9018" opacity="0.9"/>
<path d="M172,30 L176,34 L186,35 L200,36.5 L200,33 L185,31 Z" fill="#ff8200" opacity="0.6"/>
<path d="M185,36 L200,37 L220,39 L205,41 L190,40 Z" fill="#fbb47a" opacity="0.45"/>
<path d="M196,41 L215,43 L235,46 L215,46.5 L200,44.5 Z" fill="#fbb47a" opacity="0.4"/>
<path d="M176,30 L195,31 L212,33.5 L195,34.5 L180,33 Z" fill="#e46a20" opacity="0.35"/>
<path d="M54.0,-1.1 L59.0,-0.1 L70.0,2.2 L85.0,6.7 L100.0,11.2 L115.0,15.2 L130.0,18.9 L145.0,22.4 L160.0,25.2 L168.0,26.9 L176.0,28.9 L190.0,31.4" stroke="#ffb86c" stroke-width="3.0" fill="none" opacity="0.75" stroke-linecap="round"/>
<path d="M100.0,5.3 L115.0,9.3 L130.0,13.0 L145.0,16.5 L160.0,19.3" stroke="#fd6700" stroke-width="3.2" fill="none" opacity="0.55" stroke-linecap="round"/>
<path d="M115.0,4.3 L130.0,8.0 L145.0,11.5 L160.0,14.3" stroke="#ff890a" stroke-width="2.6" fill="none" opacity="0.45" stroke-linecap="round"/>
<path d="M130.0,3.5 L145.0,7.0 L160.0,9.8" stroke="#ed5300" stroke-width="3" fill="none" opacity="0.4" stroke-linecap="round"/>
<line x1="239.6" y1="39.4" x2="279.3" y2="41.0" stroke="#ce2a00" stroke-width="1.3" opacity="0.41" stroke-linecap="round"/>
<line x1="247.3" y1="41.4" x2="283.1" y2="42.8" stroke="#d22f00" stroke-width="0.9" opacity="0.59" stroke-linecap="round"/>
<line x1="249.9" y1="56.8" x2="280.4" y2="58.0" stroke="#f76000" stroke-width="1.3" opacity="0.37" stroke-linecap="round"/>
<line x1="204.6" y1="30.5" x2="217.5" y2="31.0" stroke="#a60000" stroke-width="1.6" opacity="0.51" stroke-linecap="round"/>
<line x1="233.0" y1="45.8" x2="264.8" y2="47.0" stroke="#d33000" stroke-width="1.7" opacity="0.65" stroke-linecap="round"/>
<line x1="255.9" y1="52.6" x2="277.3" y2="53.4" stroke="#f25800" stroke-width="0.9" opacity="0.58" stroke-linecap="round"/>
<line x1="271.1" y1="37.6" x2="294.7" y2="38.6" stroke="#ff931e" stroke-width="0.8" opacity="0.41" stroke-linecap="round"/>
<line x1="186.0" y1="37.5" x2="216.9" y2="38.7" stroke="#ff9e37" stroke-width="0.9" opacity="0.45" stroke-linecap="round"/>
<line x1="261.4" y1="56.8" x2="276.9" y2="57.4" stroke="#f55d00" stroke-width="0.9" opacity="0.59" stroke-linecap="round"/>
<line x1="239.5" y1="30.0" x2="264.9" y2="31.1" stroke="#a00000" stroke-width="0.9" opacity="0.54" stroke-linecap="round"/>
<line x1="224.3" y1="28.0" x2="242.7" y2="28.7" stroke="#9b0000" stroke-width="1.5" opacity="0.44" stroke-linecap="round"/>
<line x1="248.6" y1="53.0" x2="263.6" y2="53.6" stroke="#ffb463" stroke-width="1.0" opacity="0.58" stroke-linecap="round"/>
<line x1="210.6" y1="35.2" x2="224.8" y2="35.8" stroke="#a30000" stroke-width="1.0" opacity="0.53" stroke-linecap="round"/>
<line x1="227.9" y1="36.6" x2="268.6" y2="38.3" stroke="#cc2800" stroke-width="1.6" opacity="0.40" stroke-linecap="round"/>
<line x1="277.9" y1="29.2" x2="314.5" y2="30.7" stroke="#ab0000" stroke-width="1.5" opacity="0.63" stroke-linecap="round"/>
<line x1="282.5" y1="30.7" x2="321.0" y2="32.2" stroke="#ff7300" stroke-width="0.9" opacity="0.36" stroke-linecap="round"/>
<line x1="268.6" y1="32.7" x2="298.5" y2="33.9" stroke="#ab0000" stroke-width="1.4" opacity="0.37" stroke-linecap="round"/>
<line x1="239.5" y1="31.8" x2="277.1" y2="33.3" stroke="#ff7600" stroke-width="1.6" opacity="0.41" stroke-linecap="round"/>
<line x1="207.6" y1="24.6" x2="233.0" y2="25.6" stroke="#ab0000" stroke-width="1.1" opacity="0.52" stroke-linecap="round"/>
<line x1="217.8" y1="28.5" x2="256.6" y2="30.0" stroke="#ff6e00" stroke-width="1.4" opacity="0.53" stroke-linecap="round"/>
<line x1="181.9" y1="28.8" x2="194.4" y2="29.3" stroke="#ff6d00" stroke-width="1.7" opacity="0.36" stroke-linecap="round"/>
<line x1="231.0" y1="45.6" x2="265.0" y2="47.0" stroke="#c41c00" stroke-width="0.9" opacity="0.51" stroke-linecap="round"/>
<line x1="277.0" y1="49.1" x2="311.1" y2="50.4" stroke="#ffa84b" stroke-width="1.6" opacity="0.46" stroke-linecap="round"/>
<line x1="277.1" y1="47.3" x2="315.2" y2="48.8" stroke="#e74b00" stroke-width="1.6" opacity="0.52" stroke-linecap="round"/>
<line x1="220.1" y1="45.2" x2="249.5" y2="46.4" stroke="#ffa23f" stroke-width="1.4" opacity="0.65" stroke-linecap="round"/>
<line x1="258.1" y1="53.9" x2="281.8" y2="54.9" stroke="#ffac54" stroke-width="1.2" opacity="0.60" stroke-linecap="round"/>
<line x1="260.5" y1="26.8" x2="273.4" y2="27.4" stroke="#ff7100" stroke-width="1.0" opacity="0.56" stroke-linecap="round"/>
<line x1="245.6" y1="40.9" x2="285.2" y2="42.5" stroke="#d83700" stroke-width="1.1" opacity="0.55" stroke-linecap="round"/>
<line x1="196.7" y1="30.9" x2="235.8" y2="32.5" stroke="#ff7200" stroke-width="1.6" opacity="0.45" stroke-linecap="round"/>
<line x1="278.6" y1="51.4" x2="317.0" y2="52.9" stroke="#eb5000" stroke-width="1.1" opacity="0.39" stroke-linecap="round"/>
<line x1="270.1" y1="40.9" x2="307.5" y2="42.4" stroke="#ff911a" stroke-width="1.0" opacity="0.40" stroke-linecap="round"/>
<line x1="208.3" y1="39.3" x2="226.7" y2="40.1" stroke="#cb2600" stroke-width="1.2" opacity="0.44" stroke-linecap="round"/>
<line x1="286.0" y1="52.5" x2="311.6" y2="53.6" stroke="#f75f00" stroke-width="1.6" opacity="0.36" stroke-linecap="round"/>
<line x1="240.8" y1="48.1" x2="262.0" y2="48.9" stroke="#ffb86b" stroke-width="0.9" opacity="0.49" stroke-linecap="round"/>
<line x1="269.3" y1="24.8" x2="288.4" y2="25.6" stroke="#ae0000" stroke-width="1.4" opacity="0.48" stroke-linecap="round"/>
<line x1="250.1" y1="45.4" x2="286.3" y2="46.9" stroke="#ff9625" stroke-width="1.0" opacity="0.49" stroke-linecap="round"/>
<line x1="179.2" y1="30.1" x2="205.4" y2="31.1" stroke="#ff7800" stroke-width="1.0" opacity="0.45" stroke-linecap="round"/>
<line x1="235.2" y1="47.7" x2="265.7" y2="48.9" stroke="#ffb05c" stroke-width="1.5" opacity="0.62" stroke-linecap="round"/>
<line x1="280.6" y1="27.0" x2="314.3" y2="28.3" stroke="#a50000" stroke-width="1.4" opacity="0.62" stroke-linecap="round"/>
<line x1="240.6" y1="36.8" x2="278.9" y2="38.3" stroke="#ff911a" stroke-width="1.2" opacity="0.55" stroke-linecap="round"/>
<line x1="257.4" y1="31.0" x2="294.0" y2="32.4" stroke="#ff6d00" stroke-width="1.0" opacity="0.62" stroke-linecap="round"/>
<line x1="285.5" y1="57.3" x2="313.6" y2="58.5" stroke="#ffb25f" stroke-width="1.6" opacity="0.61" stroke-linecap="round"/>
<line x1="187.1" y1="35.8" x2="212.3" y2="36.9" stroke="#ff6c00" stroke-width="1.2" opacity="0.36" stroke-linecap="round"/>
<line x1="214.9" y1="29.9" x2="250.5" y2="31.3" stroke="#ac0000" stroke-width="1.3" opacity="0.57" stroke-linecap="round"/>
<line x1="253.8" y1="52.6" x2="294.2" y2="54.2" stroke="#e44600" stroke-width="0.9" opacity="0.42" stroke-linecap="round"/>
<line x1="209.9" y1="41.9" x2="243.8" y2="43.3" stroke="#ff992c" stroke-width="1.6" opacity="0.52" stroke-linecap="round"/>
<line x1="219.9" y1="34.6" x2="257.3" y2="36.1" stroke="#ff7700" stroke-width="1.6" opacity="0.64" stroke-linecap="round"/>
<line x1="241.0" y1="41.8" x2="259.1" y2="42.5" stroke="#ce2a00" stroke-width="1.3" opacity="0.36" stroke-linecap="round"/>
<line x1="239.9" y1="51.2" x2="266.6" y2="52.3" stroke="#ffb769" stroke-width="1.3" opacity="0.47" stroke-linecap="round"/>
<line x1="279.6" y1="56.5" x2="299.7" y2="57.3" stroke="#f55d00" stroke-width="1.2" opacity="0.59" stroke-linecap="round"/>
<line x1="246.0" y1="30.5" x2="285.7" y2="32.1" stroke="#9f0000" stroke-width="0.8" opacity="0.41" stroke-linecap="round"/>
<line x1="253.6" y1="31.7" x2="275.2" y2="32.6" stroke="#a20000" stroke-width="0.9" opacity="0.57" stroke-linecap="round"/>
<line x1="234.2" y1="28.2" x2="253.7" y2="29.0" stroke="#a40000" stroke-width="1.2" opacity="0.46" stroke-linecap="round"/>
<line x1="236.2" y1="38.1" x2="253.0" y2="38.7" stroke="#cb2600" stroke-width="1.4" opacity="0.51" stroke-linecap="round"/>
<line x1="245.3" y1="52.9" x2="283.0" y2="54.5" stroke="#e84c00" stroke-width="1.5" opacity="0.62" stroke-linecap="round"/>
<line x1="212.6" y1="34.7" x2="252.3" y2="36.3" stroke="#9a0000" stroke-width="1.6" opacity="0.39" stroke-linecap="round"/>
<line x1="257.9" y1="32.1" x2="277.7" y2="32.9" stroke="#9d0000" stroke-width="1.2" opacity="0.59" stroke-linecap="round"/>
<line x1="222.3" y1="28.3" x2="254.9" y2="29.6" stroke="#ab0000" stroke-width="1.4" opacity="0.62" stroke-linecap="round"/>
<line x1="233.3" y1="49.8" x2="265.9" y2="51.1" stroke="#f65e00" stroke-width="0.9" opacity="0.36" stroke-linecap="round"/>
<line x1="234.6" y1="42.8" x2="263.7" y2="43.9" stroke="#d53200" stroke-width="1.0" opacity="0.60" stroke-linecap="round"/>
<line x1="280.0" y1="57.7" x2="294.8" y2="58.3" stroke="#e44600" stroke-width="1.2" opacity="0.58" stroke-linecap="round"/>
<line x1="261.7" y1="66.4" x2="274.9" y2="67.2" stroke="#ffc383" stroke-width="1.3" opacity="0.24" stroke-linecap="round"/>
<line x1="246.0" y1="86.1" x2="258.3" y2="84.8" stroke="#ff8b0f" stroke-width="1.3" opacity="0.08" stroke-linecap="round"/>
<line x1="236.8" y1="73.5" x2="255.4" y2="74.2" stroke="#ff8300" stroke-width="1.3" opacity="0.33" stroke-linecap="round"/>
<line x1="269.0" y1="69.4" x2="282.0" y2="71.0" stroke="#ff8100" stroke-width="1.3" opacity="0.27" stroke-linecap="round"/>
<line x1="278.8" y1="82.3" x2="296.2" y2="83.3" stroke="#ffbd76" stroke-width="1.3" opacity="0.19" stroke-linecap="round"/>
<line x1="278.1" y1="83.2" x2="289.8" y2="83.0" stroke="#ff9422" stroke-width="1.3" opacity="0.13" stroke-linecap="round"/>
<line x1="255.6" y1="54.4" x2="270.5" y2="55.1" stroke="#ff9019" stroke-width="1.3" opacity="0.67" stroke-linecap="round"/>
<line x1="272.3" y1="66.8" x2="286.3" y2="67.4" stroke="#ffc78c" stroke-width="1.3" opacity="0.48" stroke-linecap="round"/>
<line x1="277.9" y1="80.6" x2="297.6" y2="79.2" stroke="#ffc382" stroke-width="1.3" opacity="0.20" stroke-linecap="round"/>
<line x1="238.8" y1="69.3" x2="247.5" y2="70.3" stroke="#ffcd98" stroke-width="1.3" opacity="0.27" stroke-linecap="round"/>
<line x1="263.9" y1="74.9" x2="283.5" y2="76.7" stroke="#ffbb72" stroke-width="1.3" opacity="0.27" stroke-linecap="round"/>
<line x1="268.9" y1="56.9" x2="285.5" y2="56.8" stroke="#ffbc75" stroke-width="1.3" opacity="0.38" stroke-linecap="round"/>
<line x1="263.3" y1="60.4" x2="277.8" y2="60.5" stroke="#ffbc74" stroke-width="1.3" opacity="0.42" stroke-linecap="round"/>
<line x1="256.1" y1="76.7" x2="266.1" y2="77.4" stroke="#ff8706" stroke-width="1.3" opacity="0.19" stroke-linecap="round"/>
<line x1="236.8" y1="65.2" x2="246.2" y2="64.9" stroke="#ffcc95" stroke-width="1.3" opacity="0.44" stroke-linecap="round"/>
<line x1="277.2" y1="88.1" x2="283.9" y2="88.9" stroke="#ff7d00" stroke-width="1.3" opacity="0.08" stroke-linecap="round"/>
<line x1="262.3" y1="70.3" x2="281.9" y2="71.6" stroke="#ffc586" stroke-width="1.3" opacity="0.40" stroke-linecap="round"/>
<line x1="289.8" y1="71.8" x2="307.3" y2="71.6" stroke="#ff931f" stroke-width="1.3" opacity="0.32" stroke-linecap="round"/>
<line x1="238.9" y1="61.7" x2="252.3" y2="61.6" stroke="#ffc689" stroke-width="1.3" opacity="0.47" stroke-linecap="round"/>
<line x1="268.0" y1="64.0" x2="279.9" y2="65.6" stroke="#ff8808" stroke-width="1.3" opacity="0.53" stroke-linecap="round"/>
<line x1="249.1" y1="81.9" x2="256.7" y2="81.6" stroke="#ff8100" stroke-width="1.3" opacity="0.17" stroke-linecap="round"/>
<line x1="273.7" y1="64.3" x2="287.6" y2="63.0" stroke="#ffc281" stroke-width="1.3" opacity="0.46" stroke-linecap="round"/>
<line x1="289.9" y1="63.5" x2="308.7" y2="62.2" stroke="#ff9524" stroke-width="1.3" opacity="0.28" stroke-linecap="round"/>
<line x1="270.3" y1="70.2" x2="277.7" y2="70.6" stroke="#ffce99" stroke-width="1.3" opacity="0.23" stroke-linecap="round"/>
<line x1="270.7" y1="74.9" x2="281.9" y2="75.7" stroke="#ffcb93" stroke-width="1.3" opacity="0.22" stroke-linecap="round"/>
<line x1="240.1" y1="85.9" x2="247.8" y2="85.2" stroke="#ff8503" stroke-width="1.3" opacity="0.13" stroke-linecap="round"/>
<line x1="250.2" y1="70.1" x2="267.5" y2="69.2" stroke="#ffc280" stroke-width="1.3" opacity="0.42" stroke-linecap="round"/>
<line x1="277.0" y1="74.8" x2="295.9" y2="77.0" stroke="#ffc88c" stroke-width="1.3" opacity="0.18" stroke-linecap="round"/>
<line x1="240.6" y1="57.0" x2="254.5" y2="58.1" stroke="#ffc17f" stroke-width="1.3" opacity="0.42" stroke-linecap="round"/>
<line x1="247.7" y1="56.9" x2="263.0" y2="57.8" stroke="#ffc98f" stroke-width="1.3" opacity="0.56" stroke-linecap="round"/>
<line x1="243.9" y1="64.8" x2="254.9" y2="65.4" stroke="#ff8c11" stroke-width="1.3" opacity="0.29" stroke-linecap="round"/>
<line x1="286.5" y1="75.6" x2="305.7" y2="74.5" stroke="#ff8b0d" stroke-width="1.3" opacity="0.29" stroke-linecap="round"/>
<line x1="258.0" y1="66.1" x2="277.1" y2="65.3" stroke="#ff9018" stroke-width="1.3" opacity="0.33" stroke-linecap="round"/>
<line x1="257.8" y1="67.8" x2="269.2" y2="67.9" stroke="#ffc484" stroke-width="1.3" opacity="0.41" stroke-linecap="round"/>
<line x1="267.0" y1="85.8" x2="275.4" y2="84.6" stroke="#ff7e00" stroke-width="1.3" opacity="0.09" stroke-linecap="round"/>
<line x1="265.9" y1="73.6" x2="279.9" y2="71.8" stroke="#ff8501" stroke-width="1.3" opacity="0.32" stroke-linecap="round"/>
<line x1="279.3" y1="74.8" x2="286.5" y2="73.9" stroke="#ffc07d" stroke-width="1.3" opacity="0.32" stroke-linecap="round"/>
<line x1="243.9" y1="78.1" x2="260.4" y2="79.4" stroke="#ff9018" stroke-width="1.3" opacity="0.17" stroke-linecap="round"/>
<line x1="278.1" y1="73.8" x2="289.6" y2="73.8" stroke="#ffbc73" stroke-width="1.3" opacity="0.30" stroke-linecap="round"/>
<line x1="275.7" y1="74.4" x2="291.6" y2="75.2" stroke="#ff8b0f" stroke-width="1.3" opacity="0.31" stroke-linecap="round"/>
<line x1="280.3" y1="86.4" x2="298.0" y2="86.6" stroke="#ff7c00" stroke-width="1.3" opacity="0.11" stroke-linecap="round"/>
<line x1="280.1" y1="81.0" x2="292.0" y2="82.7" stroke="#ffcc96" stroke-width="1.3" opacity="0.20" stroke-linecap="round"/>
<line x1="245.2" y1="68.3" x2="254.1" y2="67.1" stroke="#ffc990" stroke-width="1.3" opacity="0.44" stroke-linecap="round"/>
<line x1="242.3" y1="65.7" x2="257.4" y2="65.5" stroke="#ff921c" stroke-width="1.3" opacity="0.26" stroke-linecap="round"/>
<line x1="286.0" y1="76.2" x2="292.5" y2="75.7" stroke="#ffcc94" stroke-width="1.3" opacity="0.19" stroke-linecap="round"/>
<g filter="url(#blurh)">
<ellipse cx="197" cy="11" rx="9" ry="1.4" transform="rotate(-5 197 11)" fill="#8a1000" opacity="0.45"/>
<ellipse cx="225" cy="18.5" rx="15" ry="1.5" transform="rotate(3 225 18.5)" fill="#8a1000" opacity="0.45"/>
<ellipse cx="228" cy="26.5" rx="13" ry="1.4" transform="rotate(3 228 26.5)" fill="#7a0c00" opacity="0.5"/>
<ellipse cx="252" cy="14" rx="10" ry="1.3" transform="rotate(-8 252 14)" fill="#8a1000" opacity="0.35"/>
<ellipse cx="256" cy="25" rx="12" ry="1.3" transform="rotate(2 256 25)" fill="#7a0c00" opacity="0.45"/>
<ellipse cx="276" cy="31.5" rx="10" ry="1.2" transform="rotate(8 276 31.5)" fill="#8a1400" opacity="0.4"/>
<ellipse cx="200" cy="5" rx="9" ry="3" transform="rotate(0 200 5)" fill="#d84a14" opacity="0.25"/>
<ellipse cx="228" cy="9" rx="10" ry="3.5" transform="rotate(0 228 9)" fill="#c83c10" opacity="0.2"/>
<ellipse cx="270" cy="28.5" rx="6" ry="1.6" transform="rotate(10 270 28.5)" fill="#f08028" opacity="0.45"/>
<ellipse cx="245" cy="21" rx="10" ry="1.5" transform="rotate(-10 245 21)" fill="#c03010" opacity="0.3"/>
<ellipse cx="266" cy="37" rx="22" ry="1.4" transform="rotate(1 266 37)" fill="#7a1000" opacity="0.5"/>
<ellipse cx="284" cy="42" rx="14" ry="1.2" transform="rotate(2 284 42)" fill="#8a1400" opacity="0.45"/>
<ellipse cx="232" cy="38.5" rx="12" ry="1.1" transform="rotate(3 232 38.5)" fill="#a02000" opacity="0.35"/>
<ellipse cx="225" cy="44" rx="14" ry="1.2" transform="rotate(4 225 44)" fill="#fbb070" opacity="0.5"/>
<ellipse cx="250" cy="46.5" rx="14" ry="1.1" transform="rotate(2 250 46.5)" fill="#fcb878" opacity="0.45"/>
<ellipse cx="205" cy="40.5" rx="10" ry="1.1" transform="rotate(8 205 40.5)" fill="#fcc08a" opacity="0.45"/>
<ellipse cx="275" cy="47.5" rx="14" ry="1.2" transform="rotate(1 275 47.5)" fill="#e06a20" opacity="0.4"/>
</g>
<g filter="url(#blur1)">
<path d="M236.0,54.00 L237.5,54.73 L239.0,55.09 L240.5,54.91 L242.0,54.26 L243.5,53.49 L245.0,52.97 L246.5,52.97 L248.0,53.49 L249.5,54.26 L251.0,54.91 L252.5,55.09 L254.0,54.73 L255.5,54.00 L257.0,53.27 L258.5,52.91 L260.0,53.09 L261.5,53.74 L263.0,54.51 L264.5,55.03 L266.0,55.03 L267.5,54.51 L269.0,53.74 L270.5,53.09 L272.0,52.91 L273.5,53.27 L275.0,54.00 L276.5,54.73 L278.0,55.09 L279.5,54.91 L281.0,54.26 L282.5,53.49 L284.0,52.97 L285.5,52.97 L287.0,53.49 L288.5,54.26 L290.0,54.91 L291.5,55.09 L293.0,54.73 L294.5,54.00 L296.0,53.27" stroke="#ffcd98" stroke-width="1.5" fill="none" opacity="0.45"/>
<path d="M236.0,56.10 L237.5,56.83 L239.0,57.19 L240.5,57.01 L242.0,56.36 L243.5,55.59 L245.0,55.07 L246.5,55.07 L248.0,55.59 L249.5,56.36 L251.0,57.01 L252.5,57.19 L254.0,56.83 L255.5,56.10 L257.0,55.37 L258.5,55.01 L260.0,55.19 L261.5,55.84 L263.0,56.61 L264.5,57.13 L266.0,57.13 L267.5,56.61 L269.0,55.84 L270.5,55.19 L272.0,55.01 L273.5,55.37 L275.0,56.10 L276.5,56.83 L278.0,57.19 L279.5,57.01 L281.0,56.36 L282.5,55.59 L284.0,55.07 L285.5,55.07 L287.0,55.59 L288.5,56.36 L290.0,57.01 L291.5,57.19 L293.0,56.83 L294.5,56.10 L296.0,55.37" stroke="#f79a48" stroke-width="1.0" fill="none" opacity="0.23"/>
<path d="M236.0,59.29 L237.5,58.92 L239.0,58.19 L240.5,57.46 L242.0,57.11 L243.5,57.30 L245.0,57.95 L246.5,58.72 L248.0,59.23 L249.5,59.23 L251.0,58.70 L252.5,57.93 L254.0,57.29 L255.5,57.11 L257.0,57.48 L258.5,58.21 L260.0,58.94 L261.5,59.29 L263.0,59.10 L264.5,58.45 L266.0,57.68 L267.5,57.17 L269.0,57.17 L270.5,57.70 L272.0,58.47 L273.5,59.11 L275.0,59.29 L276.5,58.92 L278.0,58.19 L279.5,57.46 L281.0,57.11 L282.5,57.30 L284.0,57.95 L285.5,58.72 L287.0,59.23 L288.5,59.23 L290.0,58.70 L291.5,57.93 L293.0,57.29 L294.5,57.11 L296.0,57.48" stroke="#ffcd98" stroke-width="1.5" fill="none" opacity="0.41"/>
<path d="M236.0,61.39 L237.5,61.02 L239.0,60.29 L240.5,59.56 L242.0,59.21 L243.5,59.40 L245.0,60.05 L246.5,60.82 L248.0,61.33 L249.5,61.33 L251.0,60.80 L252.5,60.03 L254.0,59.39 L255.5,59.21 L257.0,59.58 L258.5,60.31 L260.0,61.04 L261.5,61.39 L263.0,61.20 L264.5,60.55 L266.0,59.78 L267.5,59.27 L269.0,59.27 L270.5,59.80 L272.0,60.57 L273.5,61.21 L275.0,61.39 L276.5,61.02 L278.0,60.29 L279.5,59.56 L281.0,59.21 L282.5,59.40 L284.0,60.05 L285.5,60.82 L287.0,61.33 L288.5,61.33 L290.0,60.80 L291.5,60.03 L293.0,59.39 L294.5,59.21 L296.0,59.58" stroke="#f79a48" stroke-width="1.0" fill="none" opacity="0.21"/>
<path d="M236.0,62.12 L237.5,61.48 L239.0,61.31 L240.5,61.68 L242.0,62.42 L243.5,63.14 L245.0,63.49 L246.5,63.29 L248.0,62.65 L249.5,61.87 L251.0,61.37 L252.5,61.38 L254.0,61.91 L255.5,62.68 L257.0,63.32 L258.5,63.49 L260.0,63.12 L261.5,62.38 L263.0,61.66 L264.5,61.31 L266.0,61.51 L267.5,62.15 L269.0,62.93 L270.5,63.43 L272.0,63.42 L273.5,62.89 L275.0,62.12 L276.5,61.48 L278.0,61.31 L279.5,61.68 L281.0,62.42 L282.5,63.14 L284.0,63.49 L285.5,63.29 L287.0,62.65 L288.5,61.87 L290.0,61.37 L291.5,61.38 L293.0,61.91 L294.5,62.68 L296.0,63.32" stroke="#ffcd98" stroke-width="1.5" fill="none" opacity="0.37"/>
<path d="M236.0,64.22 L237.5,63.58 L239.0,63.41 L240.5,63.78 L242.0,64.52 L243.5,65.24 L245.0,65.59 L246.5,65.39 L248.0,64.75 L249.5,63.97 L251.0,63.47 L252.5,63.48 L254.0,64.01 L255.5,64.78 L257.0,65.42 L258.5,65.59 L260.0,65.22 L261.5,64.48 L263.0,63.76 L264.5,63.41 L266.0,63.61 L267.5,64.25 L269.0,65.03 L270.5,65.53 L272.0,65.52 L273.5,64.99 L275.0,64.22 L276.5,63.58 L278.0,63.41 L279.5,63.78 L281.0,64.52 L282.5,65.24 L284.0,65.59 L285.5,65.39 L287.0,64.75 L288.5,63.97 L290.0,63.47 L291.5,63.48 L293.0,64.01 L294.5,64.78 L296.0,65.42" stroke="#f79a48" stroke-width="1.0" fill="none" opacity="0.18"/>
<path d="M236.0,65.58 L237.5,66.11 L239.0,66.89 L240.5,67.52 L242.0,67.69 L243.5,67.31 L245.0,66.57 L246.5,65.85 L248.0,65.51 L249.5,65.71 L251.0,66.36 L252.5,67.14 L254.0,67.64 L255.5,67.62 L257.0,67.09 L258.5,66.31 L260.0,65.68 L261.5,65.51 L263.0,65.89 L264.5,66.63 L266.0,67.35 L267.5,67.69 L269.0,67.49 L270.5,66.84 L272.0,66.06 L273.5,65.56 L275.0,65.58 L276.5,66.11 L278.0,66.89 L279.5,67.52 L281.0,67.69 L282.5,67.31 L284.0,66.57 L285.5,65.85 L287.0,65.51 L288.5,65.71 L290.0,66.36 L291.5,67.14 L293.0,67.64 L294.5,67.62 L296.0,67.09" stroke="#ffcd98" stroke-width="1.5" fill="none" opacity="0.33"/>
<path d="M236.0,67.68 L237.5,68.21 L239.0,68.99 L240.5,69.62 L242.0,69.79 L243.5,69.41 L245.0,68.67 L246.5,67.95 L248.0,67.61 L249.5,67.81 L251.0,68.46 L252.5,69.24 L254.0,69.74 L255.5,69.72 L257.0,69.19 L258.5,68.41 L260.0,67.78 L261.5,67.61 L263.0,67.99 L264.5,68.73 L266.0,69.45 L267.5,69.79 L269.0,69.59 L270.5,68.94 L272.0,68.16 L273.5,67.66 L275.0,67.68 L276.5,68.21 L278.0,68.99 L279.5,69.62 L281.0,69.79 L282.5,69.41 L284.0,68.67 L285.5,67.95 L287.0,67.61 L288.5,67.81 L290.0,68.46 L291.5,69.24 L293.0,69.74 L294.5,69.72 L296.0,69.19" stroke="#f79a48" stroke-width="1.0" fill="none" opacity="0.17"/>
<path d="M236.0,71.34 L237.5,71.84 L239.0,71.81 L240.5,71.28 L242.0,70.50 L243.5,69.87 L245.0,69.71 L246.5,70.10 L248.0,70.84 L249.5,71.56 L251.0,71.90 L252.5,71.68 L254.0,71.03 L255.5,70.26 L257.0,69.76 L258.5,69.79 L260.0,70.32 L261.5,71.10 L263.0,71.73 L264.5,71.89 L266.0,71.50 L267.5,70.76 L269.0,70.04 L270.5,69.70 L272.0,69.92 L273.5,70.57 L275.0,71.34 L276.5,71.84 L278.0,71.81 L279.5,71.28 L281.0,70.50 L282.5,69.87 L284.0,69.71 L285.5,70.10 L287.0,70.84 L288.5,71.56 L290.0,71.90 L291.5,71.68 L293.0,71.03 L294.5,70.26 L296.0,69.76" stroke="#ffcd98" stroke-width="1.5" fill="none" opacity="0.29"/>
<path d="M236.0,73.44 L237.5,73.94 L239.0,73.91 L240.5,73.38 L242.0,72.60 L243.5,71.97 L245.0,71.81 L246.5,72.20 L248.0,72.94 L249.5,73.66 L251.0,74.00 L252.5,73.78 L254.0,73.13 L255.5,72.36 L257.0,71.86 L258.5,71.89 L260.0,72.42 L261.5,73.20 L263.0,73.83 L264.5,73.99 L266.0,73.60 L267.5,72.86 L269.0,72.14 L270.5,71.80 L272.0,72.02 L273.5,72.67 L275.0,73.44 L276.5,73.94 L278.0,73.91 L279.5,73.38 L281.0,72.60 L282.5,71.97 L284.0,71.81 L285.5,72.20 L287.0,72.94 L288.5,73.66 L290.0,74.00 L291.5,73.78 L293.0,73.13 L294.5,72.36 L296.0,71.86" stroke="#f79a48" stroke-width="1.0" fill="none" opacity="0.15"/>
<path d="M236.0,75.88 L237.5,75.22 L239.0,74.45 L240.5,73.96 L242.0,73.99 L243.5,74.53 L245.0,75.31 L246.5,75.93 L248.0,76.09 L249.5,75.69 L251.0,74.95 L252.5,74.24 L254.0,73.90 L255.5,74.12 L257.0,74.78 L258.5,75.55 L260.0,76.04 L261.5,76.01 L263.0,75.47 L264.5,74.69 L266.0,74.07 L267.5,73.91 L269.0,74.31 L270.5,75.05 L272.0,75.76 L273.5,76.10 L275.0,75.88 L276.5,75.22 L278.0,74.45 L279.5,73.96 L281.0,73.99 L282.5,74.53 L284.0,75.31 L285.5,75.93 L287.0,76.09 L288.5,75.69 L290.0,74.95 L291.5,74.24 L293.0,73.90 L294.5,74.12 L296.0,74.78" stroke="#ffcd98" stroke-width="1.5" fill="none" opacity="0.25"/>
<path d="M236.0,77.98 L237.5,77.32 L239.0,76.55 L240.5,76.06 L242.0,76.09 L243.5,76.63 L245.0,77.41 L246.5,78.03 L248.0,78.19 L249.5,77.79 L251.0,77.05 L252.5,76.34 L254.0,76.00 L255.5,76.22 L257.0,76.88 L258.5,77.65 L260.0,78.14 L261.5,78.11 L263.0,77.57 L264.5,76.79 L266.0,76.17 L267.5,76.01 L269.0,76.41 L270.5,77.15 L272.0,77.86 L273.5,78.20 L275.0,77.98 L276.5,77.32 L278.0,76.55 L279.5,76.06 L281.0,76.09 L282.5,76.63 L284.0,77.41 L285.5,78.03 L287.0,78.19 L288.5,77.79 L290.0,77.05 L291.5,76.34 L293.0,76.00 L294.5,76.22 L296.0,76.88" stroke="#f79a48" stroke-width="1.0" fill="none" opacity="0.12"/>
<path d="M236.0,78.43 L237.5,78.10 L239.0,78.33 L240.5,78.99 L242.0,79.76 L243.5,80.25 L245.0,80.21 L246.5,79.66 L248.0,78.88 L249.5,78.26 L251.0,78.12 L252.5,78.51 L254.0,79.26 L255.5,79.97 L257.0,80.30 L258.5,80.07 L260.0,79.41 L261.5,78.64 L263.0,78.15 L264.5,78.19 L266.0,78.74 L267.5,79.52 L269.0,80.14 L270.5,80.28 L272.0,79.89 L273.5,79.14 L275.0,78.43 L276.5,78.10 L278.0,78.33 L279.5,78.99 L281.0,79.76 L282.5,80.25 L284.0,80.21 L285.5,79.66 L287.0,78.88 L288.5,78.26 L290.0,78.12 L291.5,78.51 L293.0,79.26 L294.5,79.97 L296.0,80.30" stroke="#ffcd98" stroke-width="1.5" fill="none" opacity="0.21"/>
<path d="M236.0,80.53 L237.5,80.20 L239.0,80.43 L240.5,81.09 L242.0,81.86 L243.5,82.35 L245.0,82.31 L246.5,81.76 L248.0,80.98 L249.5,80.36 L251.0,80.22 L252.5,80.61 L254.0,81.36 L255.5,82.07 L257.0,82.40 L258.5,82.17 L260.0,81.51 L261.5,80.74 L263.0,80.25 L264.5,80.29 L266.0,80.84 L267.5,81.62 L269.0,82.24 L270.5,82.38 L272.0,81.99 L273.5,81.24 L275.0,80.53 L276.5,80.20 L278.0,80.43 L279.5,81.09 L281.0,81.86 L282.5,82.35 L284.0,82.31 L285.5,81.76 L287.0,80.98 L288.5,80.36 L290.0,80.22 L291.5,80.61 L293.0,81.36 L294.5,82.07 L296.0,82.40" stroke="#f79a48" stroke-width="1.0" fill="none" opacity="0.11"/>
<path d="M236.0,82.72 L237.5,83.46 L239.0,84.18 L240.5,84.50 L242.0,84.27 L243.5,83.60 L245.0,82.83 L246.5,82.35 L248.0,82.40 L249.5,82.95 L251.0,83.73 L252.5,84.34 L254.0,84.48 L255.5,84.08 L257.0,83.34 L258.5,82.62 L260.0,82.30 L261.5,82.53 L263.0,83.20 L264.5,83.97 L266.0,84.45 L267.5,84.40 L269.0,83.85 L270.5,83.07 L272.0,82.46 L273.5,82.32 L275.0,82.72 L276.5,83.46 L278.0,84.18 L279.5,84.50 L281.0,84.27 L282.5,83.60 L284.0,82.83 L285.5,82.35 L287.0,82.40 L288.5,82.95 L290.0,83.73 L291.5,84.34 L293.0,84.48 L294.5,84.08 L296.0,83.34" stroke="#ffcd98" stroke-width="1.5" fill="none" opacity="0.17"/>
<path d="M236.0,84.82 L237.5,85.56 L239.0,86.28 L240.5,86.60 L242.0,86.37 L243.5,85.70 L245.0,84.93 L246.5,84.45 L248.0,84.50 L249.5,85.05 L251.0,85.83 L252.5,86.44 L254.0,86.58 L255.5,86.18 L257.0,85.44 L258.5,84.72 L260.0,84.40 L261.5,84.63 L263.0,85.30 L264.5,86.07 L266.0,86.55 L267.5,86.50 L269.0,85.95 L270.5,85.17 L272.0,84.56 L273.5,84.42 L275.0,84.82 L276.5,85.56 L278.0,86.28 L279.5,86.60 L281.0,86.37 L282.5,85.70 L284.0,84.93 L285.5,84.45 L287.0,84.50 L288.5,85.05 L290.0,85.83 L291.5,86.44 L293.0,86.58 L294.5,86.18 L296.0,85.44" stroke="#f79a48" stroke-width="1.0" fill="none" opacity="0.08"/>
<path d="M236.0,88.55 L237.5,88.68 L239.0,88.27 L240.5,87.53 L242.0,86.82 L243.5,86.50 L245.0,86.74 L246.5,87.41 L248.0,88.18 L249.5,88.65 L251.0,88.60 L252.5,88.04 L254.0,87.27 L255.5,86.65 L257.0,86.52 L258.5,86.93 L260.0,87.67 L261.5,88.38 L263.0,88.70 L264.5,88.46 L266.0,87.79 L267.5,87.02 L269.0,86.55 L270.5,86.60 L272.0,87.16 L273.5,87.93 L275.0,88.55 L276.5,88.68 L278.0,88.27 L279.5,87.53 L281.0,86.82 L282.5,86.50 L284.0,86.74 L285.5,87.41 L287.0,88.18 L288.5,88.65 L290.0,88.60 L291.5,88.04 L293.0,87.27 L294.5,86.65 L296.0,86.52" stroke="#ffcd98" stroke-width="1.5" fill="none" opacity="0.13"/>
<path d="M236.0,90.65 L237.5,90.78 L239.0,90.37 L240.5,89.63 L242.0,88.92 L243.5,88.60 L245.0,88.84 L246.5,89.51 L248.0,90.28 L249.5,90.75 L251.0,90.70 L252.5,90.14 L254.0,89.37 L255.5,88.75 L257.0,88.62 L258.5,89.03 L260.0,89.77 L261.5,90.48 L263.0,90.80 L264.5,90.56 L266.0,89.89 L267.5,89.12 L269.0,88.65 L270.5,88.70 L272.0,89.26 L273.5,90.03 L275.0,90.65 L276.5,90.78 L278.0,90.37 L279.5,89.63 L281.0,88.92 L282.5,88.60 L284.0,88.84 L285.5,89.51 L287.0,90.28 L288.5,90.75 L290.0,90.70 L291.5,90.14 L293.0,89.37 L294.5,88.75 L296.0,88.62" stroke="#f79a48" stroke-width="1.0" fill="none" opacity="0.07"/>
</g>
<path d="M186.5,1.5 C183,9 184,13 185.5,16 C188,20 187.5,23 186,26" stroke="#9a0000" stroke-width="1.4" fill="none" opacity="0.55" stroke-linecap="round"/>
<path d="M208.5,1.5 C205,9 205.5,12 207,15 C210,19 209.5,23 208,27" stroke="#9a0000" stroke-width="1.4" fill="none" opacity="0.55" stroke-linecap="round"/>
<path d="M256,1.5 C250,8 243,15 236,23" stroke="#d83700" stroke-width="3.0" fill="none" opacity="0.45" stroke-linecap="round"/>
<path d="M263,1.5 C257,9 250,17 243,26" stroke="#8a0000" stroke-width="1.6" fill="none" opacity="0.5" stroke-linecap="round"/>
<path d="M233,1.5 C229,6 224,11 219,16" stroke="#d33100" stroke-width="2.5" fill="none" opacity="0.35" stroke-linecap="round"/>
<path d="M238,2 C234,8 229,14 224,20" stroke="#950000" stroke-width="1.2" fill="none" opacity="0.4" stroke-linecap="round"/>
<path d="M168,2 C172,6 176,10 180,14" stroke="#fd6700" stroke-width="2.5" fill="none" opacity="0.35" stroke-linecap="round"/>
<path d="M190,3 C195,8 200,12 204,17" stroke="#d33100" stroke-width="2.2" fill="none" opacity="0.3" stroke-linecap="round"/>
</g></g>
</g>
<line x1="30.5" y1="268.5" x2="35.5" y2="268.5" stroke="#a8a8a8" stroke-width="1" style="mix-blend-mode:multiply"/>
<line x1="293.5" y1="268.5" x2="288.5" y2="268.5" stroke="#a8a8a8" stroke-width="1" style="mix-blend-mode:multiply"/>
<line x1="30.5" y1="261.5" x2="33.5" y2="261.5" stroke="#a8a8a8" stroke-width="1" style="mix-blend-mode:multiply"/>
<line x1="293.5" y1="261.5" x2="290.5" y2="261.5" stroke="#a8a8a8" stroke-width="1" style="mix-blend-mode:multiply"/>
<line x1="30.5" y1="255.5" x2="33.5" y2="255.5" stroke="#a8a8a8" stroke-width="1" style="mix-blend-mode:multiply"/>
<line x1="293.5" y1="255.5" x2="290.5" y2="255.5" stroke="#a8a8a8" stroke-width="1" style="mix-blend-mode:multiply"/>
<line x1="30.5" y1="249.5" x2="33.5" y2="249.5" stroke="#a8a8a8" stroke-width="1" style="mix-blend-mode:multiply"/>
<line x1="293.5" y1="249.5" x2="290.5" y2="249.5" stroke="#a8a8a8" stroke-width="1" style="mix-blend-mode:multiply"/>
<line x1="30.5" y1="243.5" x2="33.5" y2="243.5" stroke="#a8a8a8" stroke-width="1" style="mix-blend-mode:multiply"/>
<line x1="293.5" y1="243.5" x2="290.5" y2="243.5" stroke="#a8a8a8" stroke-width="1" style="mix-blend-mode:multiply"/>
<line x1="30.5" y1="237.5" x2="33.5" y2="237.5" stroke="#a8a8a8" stroke-width="1" style="mix-blend-mode:multiply"/>
<line x1="293.5" y1="237.5" x2="290.5" y2="237.5" stroke="#a8a8a8" stroke-width="1" style="mix-blend-mode:multiply"/>
<line x1="30.5" y1="230.5" x2="33.5" y2="230.5" stroke="#a8a8a8" stroke-width="1" style="mix-blend-mode:multiply"/>
<line x1="293.5" y1="230.5" x2="290.5" y2="230.5" stroke="#a8a8a8" stroke-width="1" style="mix-blend-mode:multiply"/>
<line x1="30.5" y1="224.5" x2="33.5" y2="224.5" stroke="#a8a8a8" stroke-width="1" style="mix-blend-mode:multiply"/>
<line x1="293.5" y1="224.5" x2="290.5" y2="224.5" stroke="#a8a8a8" stroke-width="1" style="mix-blend-mode:multiply"/>
<line x1="30.5" y1="218.5" x2="33.5" y2="218.5" stroke="#a8a8a8" stroke-width="1" style="mix-blend-mode:multiply"/>
<line x1="293.5" y1="218.5" x2="290.5" y2="218.5" stroke="#a8a8a8" stroke-width="1" style="mix-blend-mode:multiply"/>
<line x1="30.5" y1="212.5" x2="33.5" y2="212.5" stroke="#a8a8a8" stroke-width="1" style="mix-blend-mode:multiply"/>
<line x1="293.5" y1="212.5" x2="290.5" y2="212.5" stroke="#a8a8a8" stroke-width="1" style="mix-blend-mode:multiply"/>
<line x1="30.5" y1="206.5" x2="35.5" y2="206.5" stroke="#a8a8a8" stroke-width="1" style="mix-blend-mode:multiply"/>
<line x1="293.5" y1="206.5" x2="288.5" y2="206.5" stroke="#a8a8a8" stroke-width="1" style="mix-blend-mode:multiply"/>
<line x1="30.5" y1="199.5" x2="33.5" y2="199.5" stroke="#a8a8a8" stroke-width="1" style="mix-blend-mode:multiply"/>
<line x1="293.5" y1="199.5" x2="290.5" y2="199.5" stroke="#a8a8a8" stroke-width="1" style="mix-blend-mode:multiply"/>
<line x1="30.5" y1="193.5" x2="33.5" y2="193.5" stroke="#a8a8a8" stroke-width="1" style="mix-blend-mode:multiply"/>
<line x1="293.5" y1="193.5" x2="290.5" y2="193.5" stroke="#a8a8a8" stroke-width="1" style="mix-blend-mode:multiply"/>
<line x1="30.5" y1="187.5" x2="33.5" y2="187.5" stroke="#a8a8a8" stroke-width="1" style="mix-blend-mode:multiply"/>
<line x1="293.5" y1="187.5" x2="290.5" y2="187.5" stroke="#a8a8a8" stroke-width="1" style="mix-blend-mode:multiply"/>
<line x1="30.5" y1="181.5" x2="33.5" y2="181.5" stroke="#a8a8a8" stroke-width="1" style="mix-blend-mode:multiply"/>
<line x1="293.5" y1="181.5" x2="290.5" y2="181.5" stroke="#a8a8a8" stroke-width="1" style="mix-blend-mode:multiply"/>
<line x1="30.5" y1="175.5" x2="33.5" y2="175.5" stroke="#a8a8a8" stroke-width="1" style="mix-blend-mode:multiply"/>
<line x1="293.5" y1="175.5" x2="290.5" y2="175.5" stroke="#a8a8a8" stroke-width="1" style="mix-blend-mode:multiply"/>
<line x1="30.5" y1="168.5" x2="33.5" y2="168.5" stroke="#a8a8a8" stroke-width="1" style="mix-blend-mode:multiply"/>
<line x1="293.5" y1="168.5" x2="290.5" y2="168.5" stroke="#a8a8a8" stroke-width="1" style="mix-blend-mode:multiply"/>
<line x1="30.5" y1="162.5" x2="33.5" y2="162.5" stroke="#a8a8a8" stroke-width="1" style="mix-blend-mode:multiply"/>
<line x1="293.5" y1="162.5" x2="290.5" y2="162.5" stroke="#a8a8a8" stroke-width="1" style="mix-blend-mode:multiply"/>
<line x1="30.5" y1="156.5" x2="33.5" y2="156.5" stroke="#a8a8a8" stroke-width="1" style="mix-blend-mode:multiply"/>
<line x1="293.5" y1="156.5" x2="290.5" y2="156.5" stroke="#a8a8a8" stroke-width="1" style="mix-blend-mode:multiply"/>
<line x1="30.5" y1="150.5" x2="33.5" y2="150.5" stroke="#a8a8a8" stroke-width="1" style="mix-blend-mode:multiply"/>
<line x1="293.5" y1="150.5" x2="290.5" y2="150.5" stroke="#a8a8a8" stroke-width="1" style="mix-blend-mode:multiply"/>
<line x1="30.5" y1="144.5" x2="35.5" y2="144.5" stroke="#a8a8a8" stroke-width="1" style="mix-blend-mode:multiply"/>
<line x1="293.5" y1="144.5" x2="288.5" y2="144.5" stroke="#a8a8a8" stroke-width="1" style="mix-blend-mode:multiply"/>
<line x1="30.5" y1="138.5" x2="33.5" y2="138.5" stroke="#a8a8a8" stroke-width="1" style="mix-blend-mode:multiply"/>
<line x1="293.5" y1="138.5" x2="290.5" y2="138.5" stroke="#a8a8a8" stroke-width="1" style="mix-blend-mode:multiply"/>
<line x1="30.5" y1="131.5" x2="33.5" y2="131.5" stroke="#a8a8a8" stroke-width="1" style="mix-blend-mode:multiply"/>
<line x1="293.5" y1="131.5" x2="290.5" y2="131.5" stroke="#a8a8a8" stroke-width="1" style="mix-blend-mode:multiply"/>
<line x1="30.5" y1="125.5" x2="33.5" y2="125.5" stroke="#a8a8a8" stroke-width="1" style="mix-blend-mode:multiply"/>
<line x1="293.5" y1="125.5" x2="290.5" y2="125.5" stroke="#a8a8a8" stroke-width="1" style="mix-blend-mode:multiply"/>
<line x1="30.5" y1="119.5" x2="33.5" y2="119.5" stroke="#a8a8a8" stroke-width="1" style="mix-blend-mode:multiply"/>
<line x1="293.5" y1="119.5" x2="290.5" y2="119.5" stroke="#a8a8a8" stroke-width="1" style="mix-blend-mode:multiply"/>
<line x1="30.5" y1="113.5" x2="33.5" y2="113.5" stroke="#a8a8a8" stroke-width="1" style="mix-blend-mode:multiply"/>
<line x1="293.5" y1="113.5" x2="290.5" y2="113.5" stroke="#a8a8a8" stroke-width="1" style="mix-blend-mode:multiply"/>
<line x1="30.5" y1="107.5" x2="33.5" y2="107.5" stroke="#a8a8a8" stroke-width="1" style="mix-blend-mode:multiply"/>
<line x1="293.5" y1="107.5" x2="290.5" y2="107.5" stroke="#a8a8a8" stroke-width="1" style="mix-blend-mode:multiply"/>
<line x1="30.5" y1="100.5" x2="33.5" y2="100.5" stroke="#a8a8a8" stroke-width="1" style="mix-blend-mode:multiply"/>
<line x1="293.5" y1="100.5" x2="290.5" y2="100.5" stroke="#a8a8a8" stroke-width="1" style="mix-blend-mode:multiply"/>
<line x1="30.5" y1="94.5" x2="33.5" y2="94.5" stroke="#a8a8a8" stroke-width="1" style="mix-blend-mode:multiply"/>
<line x1="293.5" y1="94.5" x2="290.5" y2="94.5" stroke="#a8a8a8" stroke-width="1" style="mix-blend-mode:multiply"/>
<line x1="30.5" y1="88.5" x2="33.5" y2="88.5" stroke="#a8a8a8" stroke-width="1" style="mix-blend-mode:multiply"/>
<line x1="293.5" y1="88.5" x2="290.5" y2="88.5" stroke="#a8a8a8" stroke-width="1" style="mix-blend-mode:multiply"/>
<line x1="30.5" y1="82.5" x2="35.5" y2="82.5" stroke="#a8a8a8" stroke-width="1" style="mix-blend-mode:multiply"/>
<line x1="293.5" y1="82.5" x2="288.5" y2="82.5" stroke="#a8a8a8" stroke-width="1" style="mix-blend-mode:multiply"/>
<line x1="30.5" y1="76.5" x2="33.5" y2="76.5" stroke="#a8a8a8" stroke-width="1" style="mix-blend-mode:multiply"/>
<line x1="293.5" y1="76.5" x2="290.5" y2="76.5" stroke="#a8a8a8" stroke-width="1" style="mix-blend-mode:multiply"/>
<line x1="30.5" y1="69.5" x2="33.5" y2="69.5" stroke="#a8a8a8" stroke-width="1" style="mix-blend-mode:multiply"/>
<line x1="293.5" y1="69.5" x2="290.5" y2="69.5" stroke="#a8a8a8" stroke-width="1" style="mix-blend-mode:multiply"/>
<line x1="30.5" y1="63.5" x2="33.5" y2="63.5" stroke="#a8a8a8" stroke-width="1" style="mix-blend-mode:multiply"/>
<line x1="293.5" y1="63.5" x2="290.5" y2="63.5" stroke="#a8a8a8" stroke-width="1" style="mix-blend-mode:multiply"/>
<line x1="30.5" y1="57.5" x2="33.5" y2="57.5" stroke="#a8a8a8" stroke-width="1" style="mix-blend-mode:multiply"/>
<line x1="293.5" y1="57.5" x2="290.5" y2="57.5" stroke="#a8a8a8" stroke-width="1" style="mix-blend-mode:multiply"/>
<line x1="30.5" y1="51.5" x2="33.5" y2="51.5" stroke="#a8a8a8" stroke-width="1" style="mix-blend-mode:multiply"/>
<line x1="293.5" y1="51.5" x2="290.5" y2="51.5" stroke="#a8a8a8" stroke-width="1" style="mix-blend-mode:multiply"/>
<line x1="30.5" y1="45.5" x2="33.5" y2="45.5" stroke="#a8a8a8" stroke-width="1" style="mix-blend-mode:multiply"/>
<line x1="293.5" y1="45.5" x2="290.5" y2="45.5" stroke="#a8a8a8" stroke-width="1" style="mix-blend-mode:multiply"/>
<line x1="30.5" y1="38.5" x2="33.5" y2="38.5" stroke="#a8a8a8" stroke-width="1" style="mix-blend-mode:multiply"/>
<line x1="293.5" y1="38.5" x2="290.5" y2="38.5" stroke="#a8a8a8" stroke-width="1" style="mix-blend-mode:multiply"/>
<line x1="30.5" y1="32.5" x2="33.5" y2="32.5" stroke="#a8a8a8" stroke-width="1" style="mix-blend-mode:multiply"/>
<line x1="293.5" y1="32.5" x2="290.5" y2="32.5" stroke="#a8a8a8" stroke-width="1" style="mix-blend-mode:multiply"/>
<line x1="30.5" y1="26.5" x2="33.5" y2="26.5" stroke="#a8a8a8" stroke-width="1" style="mix-blend-mode:multiply"/>
<line x1="293.5" y1="26.5" x2="290.5" y2="26.5" stroke="#a8a8a8" stroke-width="1" style="mix-blend-mode:multiply"/>
<line x1="30.5" y1="20.5" x2="35.5" y2="20.5" stroke="#a8a8a8" stroke-width="1" style="mix-blend-mode:multiply"/>
<line x1="293.5" y1="20.5" x2="288.5" y2="20.5" stroke="#a8a8a8" stroke-width="1" style="mix-blend-mode:multiply"/>
<line x1="30.5" y1="14.5" x2="33.5" y2="14.5" stroke="#a8a8a8" stroke-width="1" style="mix-blend-mode:multiply"/>
<line x1="293.5" y1="14.5" x2="290.5" y2="14.5" stroke="#a8a8a8" stroke-width="1" style="mix-blend-mode:multiply"/>
<line x1="30.5" y1="8.5" x2="33.5" y2="8.5" stroke="#a8a8a8" stroke-width="1" style="mix-blend-mode:multiply"/>
<line x1="293.5" y1="8.5" x2="290.5" y2="8.5" stroke="#a8a8a8" stroke-width="1" style="mix-blend-mode:multiply"/>
<line x1="30.5" y1="267.5" x2="30.5" y2="262.5" stroke="#a8a8a8" stroke-width="1" style="mix-blend-mode:multiply"/>
<line x1="30.5" y1="1.5" x2="30.5" y2="6.5" stroke="#a8a8a8" stroke-width="1" style="mix-blend-mode:multiply"/>
<line x1="43.5" y1="267.5" x2="43.5" y2="264.5" stroke="#a8a8a8" stroke-width="1" style="mix-blend-mode:multiply"/>
<line x1="43.5" y1="1.5" x2="43.5" y2="4.5" stroke="#a8a8a8" stroke-width="1" style="mix-blend-mode:multiply"/>
<line x1="56.5" y1="267.5" x2="56.5" y2="264.5" stroke="#a8a8a8" stroke-width="1" style="mix-blend-mode:multiply"/>
<line x1="56.5" y1="1.5" x2="56.5" y2="4.5" stroke="#a8a8a8" stroke-width="1" style="mix-blend-mode:multiply"/>
<line x1="69.5" y1="267.5" x2="69.5" y2="264.5" stroke="#a8a8a8" stroke-width="1" style="mix-blend-mode:multiply"/>
<line x1="69.5" y1="1.5" x2="69.5" y2="4.5" stroke="#a8a8a8" stroke-width="1" style="mix-blend-mode:multiply"/>
<line x1="83.5" y1="267.5" x2="83.5" y2="262.5" stroke="#a8a8a8" stroke-width="1" style="mix-blend-mode:multiply"/>
<line x1="83.5" y1="1.5" x2="83.5" y2="6.5" stroke="#a8a8a8" stroke-width="1" style="mix-blend-mode:multiply"/>
<line x1="96.5" y1="267.5" x2="96.5" y2="264.5" stroke="#a8a8a8" stroke-width="1" style="mix-blend-mode:multiply"/>
<line x1="96.5" y1="1.5" x2="96.5" y2="4.5" stroke="#a8a8a8" stroke-width="1" style="mix-blend-mode:multiply"/>
<line x1="109.5" y1="267.5" x2="109.5" y2="264.5" stroke="#a8a8a8" stroke-width="1" style="mix-blend-mode:multiply"/>
<line x1="109.5" y1="1.5" x2="109.5" y2="4.5" stroke="#a8a8a8" stroke-width="1" style="mix-blend-mode:multiply"/>
<line x1="122.5" y1="267.5" x2="122.5" y2="264.5" stroke="#a8a8a8" stroke-width="1" style="mix-blend-mode:multiply"/>
<line x1="122.5" y1="1.5" x2="122.5" y2="4.5" stroke="#a8a8a8" stroke-width="1" style="mix-blend-mode:multiply"/>
<line x1="135.5" y1="267.5" x2="135.5" y2="262.5" stroke="#a8a8a8" stroke-width="1" style="mix-blend-mode:multiply"/>
<line x1="135.5" y1="1.5" x2="135.5" y2="6.5" stroke="#a8a8a8" stroke-width="1" style="mix-blend-mode:multiply"/>
<line x1="148.5" y1="267.5" x2="148.5" y2="264.5" stroke="#a8a8a8" stroke-width="1" style="mix-blend-mode:multiply"/>
<line x1="148.5" y1="1.5" x2="148.5" y2="4.5" stroke="#a8a8a8" stroke-width="1" style="mix-blend-mode:multiply"/>
<line x1="162.5" y1="267.5" x2="162.5" y2="264.5" stroke="#a8a8a8" stroke-width="1" style="mix-blend-mode:multiply"/>
<line x1="162.5" y1="1.5" x2="162.5" y2="4.5" stroke="#a8a8a8" stroke-width="1" style="mix-blend-mode:multiply"/>
<line x1="175.5" y1="267.5" x2="175.5" y2="264.5" stroke="#a8a8a8" stroke-width="1" style="mix-blend-mode:multiply"/>
<line x1="175.5" y1="1.5" x2="175.5" y2="4.5" stroke="#a8a8a8" stroke-width="1" style="mix-blend-mode:multiply"/>
<line x1="188.5" y1="267.5" x2="188.5" y2="262.5" stroke="#a8a8a8" stroke-width="1" style="mix-blend-mode:multiply"/>
<line x1="188.5" y1="1.5" x2="188.5" y2="6.5" stroke="#a8a8a8" stroke-width="1" style="mix-blend-mode:multiply"/>
<line x1="201.5" y1="267.5" x2="201.5" y2="264.5" stroke="#a8a8a8" stroke-width="1" style="mix-blend-mode:multiply"/>
<line x1="201.5" y1="1.5" x2="201.5" y2="4.5" stroke="#a8a8a8" stroke-width="1" style="mix-blend-mode:multiply"/>
<line x1="214.5" y1="267.5" x2="214.5" y2="264.5" stroke="#a8a8a8" stroke-width="1" style="mix-blend-mode:multiply"/>
<line x1="214.5" y1="1.5" x2="214.5" y2="4.5" stroke="#a8a8a8" stroke-width="1" style="mix-blend-mode:multiply"/>
<line x1="227.5" y1="267.5" x2="227.5" y2="264.5" stroke="#a8a8a8" stroke-width="1" style="mix-blend-mode:multiply"/>
<line x1="227.5" y1="1.5" x2="227.5" y2="4.5" stroke="#a8a8a8" stroke-width="1" style="mix-blend-mode:multiply"/>
<line x1="240.5" y1="267.5" x2="240.5" y2="262.5" stroke="#a8a8a8" stroke-width="1" style="mix-blend-mode:multiply"/>
<line x1="240.5" y1="1.5" x2="240.5" y2="6.5" stroke="#a8a8a8" stroke-width="1" style="mix-blend-mode:multiply"/>
<line x1="254.5" y1="267.5" x2="254.5" y2="264.5" stroke="#a8a8a8" stroke-width="1" style="mix-blend-mode:multiply"/>
<line x1="254.5" y1="1.5" x2="254.5" y2="4.5" stroke="#a8a8a8" stroke-width="1" style="mix-blend-mode:multiply"/>
<line x1="267.5" y1="267.5" x2="267.5" y2="264.5" stroke="#a8a8a8" stroke-width="1" style="mix-blend-mode:multiply"/>
<line x1="267.5" y1="1.5" x2="267.5" y2="4.5" stroke="#a8a8a8" stroke-width="1" style="mix-blend-mode:multiply"/>
<line x1="280.5" y1="267.5" x2="280.5" y2="264.5" stroke="#a8a8a8" stroke-width="1" style="mix-blend-mode:multiply"/>
<line x1="280.5" y1="1.5" x2="280.5" y2="4.5" stroke="#a8a8a8" stroke-width="1" style="mix-blend-mode:multiply"/>
<line x1="293.5" y1="267.5" x2="293.5" y2="262.5" stroke="#a8a8a8" stroke-width="1" style="mix-blend-mode:multiply"/>
<line x1="293.5" y1="1.5" x2="293.5" y2="6.5" stroke="#a8a8a8" stroke-width="1" style="mix-blend-mode:multiply"/>
<rect x="30.5" y="1.5" width="263.0" height="266.0" fill="none" stroke="#b8b8b8" stroke-width="1" style="mix-blend-mode:multiply"/>
<text x="27.2" y="210.2" text-anchor="end" font-family='"Liberation Sans", sans-serif' font-size="11.2" fill="#454545" letter-spacing="1">1</text>
<text x="27.2" y="148.3" text-anchor="end" font-family='"Liberation Sans", sans-serif' font-size="11.2" fill="#454545" letter-spacing="1">2</text>
<text x="27.2" y="86.4" text-anchor="end" font-family='"Liberation Sans", sans-serif' font-size="11.2" fill="#454545" letter-spacing="1">3</text>
<text x="27.2" y="24.5" text-anchor="end" font-family='"Liberation Sans", sans-serif' font-size="11.2" fill="#454545" letter-spacing="1">4</text>
<text x="31.0" y="284.8" text-anchor="middle" font-family='"Liberation Sans", sans-serif' font-size="11.2" fill="#454545" letter-spacing="1">0.0</text>
<text x="83.6" y="284.8" text-anchor="middle" font-family='"Liberation Sans", sans-serif' font-size="11.2" fill="#454545" letter-spacing="1">0.2</text>
<text x="136.2" y="284.8" text-anchor="middle" font-family='"Liberation Sans", sans-serif' font-size="11.2" fill="#454545" letter-spacing="1">0.4</text>
<text x="188.8" y="284.8" text-anchor="middle" font-family='"Liberation Sans", sans-serif' font-size="11.2" fill="#454545" letter-spacing="1">0.6</text>
<text x="241.4" y="284.8" text-anchor="middle" font-family='"Liberation Sans", sans-serif' font-size="11.2" fill="#454545" letter-spacing="1">0.8</text>
<text x="294.0" y="284.8" text-anchor="middle" font-family='"Liberation Sans", sans-serif' font-size="11.2" fill="#454545" letter-spacing="1">1.0</text>
<text x="161.3" y="299" text-anchor="middle" font-family='"Liberation Sans", sans-serif' font-size="12" fill="#454545">z</text>
<text transform="translate(9.5,136) rotate(-90)" text-anchor="middle" font-family='"Liberation Sans", sans-serif' font-size="12" fill="#454545">t</text>
<rect x="297.5" y="1.5" width="7" height="266" fill="url(#gcbar)" stroke="#bdbdbd" stroke-width="1"/>
<line x1="304" y1="23.7" x2="302.5" y2="23.7" stroke="#777" stroke-width="0.8" opacity="0.6"/>
<line x1="304" y1="45.8" x2="301.5" y2="45.8" stroke="#777" stroke-width="0.8" opacity="0.6"/>
<line x1="304" y1="68.0" x2="302.5" y2="68.0" stroke="#777" stroke-width="0.8" opacity="0.6"/>
<line x1="304" y1="90.2" x2="301.5" y2="90.2" stroke="#777" stroke-width="0.8" opacity="0.6"/>
<line x1="304" y1="112.3" x2="302.5" y2="112.3" stroke="#777" stroke-width="0.8" opacity="0.6"/>
<line x1="304" y1="134.5" x2="301.5" y2="134.5" stroke="#777" stroke-width="0.8" opacity="0.6"/>
<line x1="304" y1="156.7" x2="302.5" y2="156.7" stroke="#777" stroke-width="0.8" opacity="0.6"/>
<line x1="304" y1="178.8" x2="301.5" y2="178.8" stroke="#777" stroke-width="0.8" opacity="0.6"/>
<line x1="304" y1="201.0" x2="302.5" y2="201.0" stroke="#777" stroke-width="0.8" opacity="0.6"/>
<line x1="304" y1="223.2" x2="301.5" y2="223.2" stroke="#777" stroke-width="0.8" opacity="0.6"/>
<line x1="304" y1="245.3" x2="302.5" y2="245.3" stroke="#777" stroke-width="0.8" opacity="0.6"/>
<text x="308.5" y="9.9" font-family='"Liberation Sans", sans-serif' font-size="11.2" fill="#454545" letter-spacing="1">35.79</text>
<text x="308.5" y="51.0" font-family='"Liberation Sans", sans-serif' font-size="11.2" fill="#454545" letter-spacing="1">29.88</text>
<text x="308.5" y="95.4" font-family='"Liberation Sans", sans-serif' font-size="11.2" fill="#454545" letter-spacing="1">23.96</text>
<text x="308.5" y="139.4" font-family='"Liberation Sans", sans-serif' font-size="11.2" fill="#454545" letter-spacing="1">18.04</text>
<text x="308.5" y="183.7" font-family='"Liberation Sans", sans-serif' font-size="11.2" fill="#454545" letter-spacing="1">12.13</text>
<text x="308.5" y="228.4" font-family='"Liberation Sans", sans-serif' font-size="11.2" fill="#454545" letter-spacing="1">6.21</text>
<text x="308.5" y="267.8" font-family='"Liberation Sans", sans-serif' font-size="11.2" fill="#454545" letter-spacing="1">0.29</text>
<text transform="translate(352.8,134.8) rotate(-90)" text-anchor="middle" letter-spacing="0.9" font-family='"Liberation Sans", sans-serif' font-size="12.5" fill="#454545"><tspan font-style="italic">ρ</tspan>/<tspan font-style="italic">ρ</tspan><tspan font-size="8" dy="2">1</tspan></text>
<text x="71" y="89.90" font-family='"Liberation Sans", sans-serif' font-size="8.1" fill="#111" stroke="#111" stroke-width="0.22">Alfvén wave pushes</text>
<text x="71" y="98.23" font-family='"Liberation Sans", sans-serif' font-size="8.1" fill="#111" stroke="#111" stroke-width="0.22">shock back before</text>
<text x="71" y="106.56" font-family='"Liberation Sans", sans-serif' font-size="8.1" fill="#111" stroke="#111" stroke-width="0.22">inflow sweeps shock</text>
<text x="71" y="114.89" font-family='"Liberation Sans", sans-serif' font-size="8.1" fill="#111" stroke="#111" stroke-width="0.22">in -z direction</text>
<text x="180.2" y="132.10" font-family='"Liberation Sans", sans-serif' font-size="8.1" fill="#111" stroke="#111" stroke-width="0.22">HD shock 'wobbles'</text>
<text x="180.2" y="140.20" font-family='"Liberation Sans", sans-serif' font-size="8.1" fill="#111" stroke="#111" stroke-width="0.22">as pressure balance</text>
<text x="180.2" y="148.30" font-family='"Liberation Sans", sans-serif' font-size="8.1" fill="#111" stroke="#111" stroke-width="0.22">is disturbed</text>
<line x1="148.7" y1="81" x2="158.88" y2="42.57" stroke="#111" stroke-width="1.6"/><path d="M159.9,38.7 L161.00,43.13 L156.75,42.00 Z" fill="#111"/>
<line x1="217" y1="119.8" x2="236.37" y2="69.24" stroke="#111" stroke-width="1.6"/><path d="M237.8,65.5 L238.42,70.02 L234.31,68.45 Z" fill="#111"/>
<line x1="217" y1="119.8" x2="239.72" y2="84.76" stroke="#111" stroke-width="1.6"/><path d="M241.9,81.4 L241.57,85.95 L237.88,83.56 Z" fill="#111"/>
<ellipse cx="42.1" cy="21.15" rx="3.85" ry="4.3" stroke="#383838" stroke-width="1.15" fill="none" stroke-linecap="round"/>
<line x1="46" y1="16.9" x2="46" y2="25.4" stroke="#383838" stroke-width="1.15" fill="none" stroke-linecap="round"/>
<path d="M50.4,10.1 Q61.1,20.5 50.4,30.8" stroke="#383838" stroke-width="1.15" fill="none" stroke-linecap="round"/>
<line x1="49.5" y1="369.50" x2="53.5" y2="369.50" stroke="#8a8a8a" stroke-width="0.8"/>
<line x1="293.5" y1="369.50" x2="289.5" y2="369.50" stroke="#8a8a8a" stroke-width="0.8"/>
<line x1="49.5" y1="365.69" x2="51.5" y2="365.69" stroke="#8a8a8a" stroke-width="0.8"/>
<line x1="293.5" y1="365.69" x2="291.5" y2="365.69" stroke="#8a8a8a" stroke-width="0.8"/>
<line x1="49.5" y1="361.88" x2="51.5" y2="361.88" stroke="#8a8a8a" stroke-width="0.8"/>
<line x1="293.5" y1="361.88" x2="291.5" y2="361.88" stroke="#8a8a8a" stroke-width="0.8"/>
<line x1="49.5" y1="358.06" x2="51.5" y2="358.06" stroke="#8a8a8a" stroke-width="0.8"/>
<line x1="293.5" y1="358.06" x2="291.5" y2="358.06" stroke="#8a8a8a" stroke-width="0.8"/>
<line x1="49.5" y1="354.25" x2="53.5" y2="354.25" stroke="#8a8a8a" stroke-width="0.8"/>
<line x1="293.5" y1="354.25" x2="289.5" y2="354.25" stroke="#8a8a8a" stroke-width="0.8"/>
<line x1="49.5" y1="350.44" x2="51.5" y2="350.44" stroke="#8a8a8a" stroke-width="0.8"/>
<line x1="293.5" y1="350.44" x2="291.5" y2="350.44" stroke="#8a8a8a" stroke-width="0.8"/>
<line x1="49.5" y1="346.62" x2="51.5" y2="346.62" stroke="#8a8a8a" stroke-width="0.8"/>
<line x1="293.5" y1="346.62" x2="291.5" y2="346.62" stroke="#8a8a8a" stroke-width="0.8"/>
<line x1="49.5" y1="342.81" x2="51.5" y2="342.81" stroke="#8a8a8a" stroke-width="0.8"/>
<line x1="293.5" y1="342.81" x2="291.5" y2="342.81" stroke="#8a8a8a" stroke-width="0.8"/>
<line x1="49.5" y1="339.00" x2="53.5" y2="339.00" stroke="#8a8a8a" stroke-width="0.8"/>
<line x1="293.5" y1="339.00" x2="289.5" y2="339.00" stroke="#8a8a8a" stroke-width="0.8"/>
<line x1="49.5" y1="335.19" x2="51.5" y2="335.19" stroke="#8a8a8a" stroke-width="0.8"/>
<line x1="293.5" y1="335.19" x2="291.5" y2="335.19" stroke="#8a8a8a" stroke-width="0.8"/>
<line x1="49.5" y1="331.38" x2="51.5" y2="331.38" stroke="#8a8a8a" stroke-width="0.8"/>
<line x1="293.5" y1="331.38" x2="291.5" y2="331.38" stroke="#8a8a8a" stroke-width="0.8"/>
<line x1="49.5" y1="327.56" x2="51.5" y2="327.56" stroke="#8a8a8a" stroke-width="0.8"/>
<line x1="293.5" y1="327.56" x2="291.5" y2="327.56" stroke="#8a8a8a" stroke-width="0.8"/>
<line x1="49.5" y1="323.75" x2="53.5" y2="323.75" stroke="#8a8a8a" stroke-width="0.8"/>
<line x1="293.5" y1="323.75" x2="289.5" y2="323.75" stroke="#8a8a8a" stroke-width="0.8"/>
<line x1="49.5" y1="319.94" x2="51.5" y2="319.94" stroke="#8a8a8a" stroke-width="0.8"/>
<line x1="293.5" y1="319.94" x2="291.5" y2="319.94" stroke="#8a8a8a" stroke-width="0.8"/>
<line x1="49.5" y1="316.12" x2="51.5" y2="316.12" stroke="#8a8a8a" stroke-width="0.8"/>
<line x1="293.5" y1="316.12" x2="291.5" y2="316.12" stroke="#8a8a8a" stroke-width="0.8"/>
<line x1="49.5" y1="312.31" x2="51.5" y2="312.31" stroke="#8a8a8a" stroke-width="0.8"/>
<line x1="293.5" y1="312.31" x2="291.5" y2="312.31" stroke="#8a8a8a" stroke-width="0.8"/>
<line x1="49.5" y1="308.50" x2="53.5" y2="308.50" stroke="#8a8a8a" stroke-width="0.8"/>
<line x1="293.5" y1="308.50" x2="289.5" y2="308.50" stroke="#8a8a8a" stroke-width="0.8"/>
<line x1="49.50" y1="369.5" x2="49.50" y2="365.5" stroke="#8a8a8a" stroke-width="0.8"/>
<line x1="49.50" y1="308.5" x2="49.50" y2="312.5" stroke="#8a8a8a" stroke-width="0.8"/>
<line x1="55.17" y1="369.5" x2="55.17" y2="368.0" stroke="#8a8a8a" stroke-width="0.8"/>
<line x1="55.17" y1="308.5" x2="55.17" y2="310.0" stroke="#8a8a8a" stroke-width="0.8"/>
<line x1="60.85" y1="369.5" x2="60.85" y2="368.0" stroke="#8a8a8a" stroke-width="0.8"/>
<line x1="60.85" y1="308.5" x2="60.85" y2="310.0" stroke="#8a8a8a" stroke-width="0.8"/>
<line x1="66.52" y1="369.5" x2="66.52" y2="368.0" stroke="#8a8a8a" stroke-width="0.8"/>
<line x1="66.52" y1="308.5" x2="66.52" y2="310.0" stroke="#8a8a8a" stroke-width="0.8"/>
<line x1="72.20" y1="369.5" x2="72.20" y2="368.0" stroke="#8a8a8a" stroke-width="0.8"/>
<line x1="72.20" y1="308.5" x2="72.20" y2="310.0" stroke="#8a8a8a" stroke-width="0.8"/>
<line x1="77.87" y1="369.5" x2="77.87" y2="368.0" stroke="#8a8a8a" stroke-width="0.8"/>
<line x1="77.87" y1="308.5" x2="77.87" y2="310.0" stroke="#8a8a8a" stroke-width="0.8"/>
<line x1="83.55" y1="369.5" x2="83.55" y2="368.0" stroke="#8a8a8a" stroke-width="0.8"/>
<line x1="83.55" y1="308.5" x2="83.55" y2="310.0" stroke="#8a8a8a" stroke-width="0.8"/>
<line x1="89.22" y1="369.5" x2="89.22" y2="368.0" stroke="#8a8a8a" stroke-width="0.8"/>
<line x1="89.22" y1="308.5" x2="89.22" y2="310.0" stroke="#8a8a8a" stroke-width="0.8"/>
<line x1="94.90" y1="369.5" x2="94.90" y2="368.0" stroke="#8a8a8a" stroke-width="0.8"/>
<line x1="94.90" y1="308.5" x2="94.90" y2="310.0" stroke="#8a8a8a" stroke-width="0.8"/>
<line x1="100.57" y1="369.5" x2="100.57" y2="368.0" stroke="#8a8a8a" stroke-width="0.8"/>
<line x1="100.57" y1="308.5" x2="100.57" y2="310.0" stroke="#8a8a8a" stroke-width="0.8"/>
<line x1="106.24" y1="369.5" x2="106.24" y2="365.5" stroke="#8a8a8a" stroke-width="0.8"/>
<line x1="106.24" y1="308.5" x2="106.24" y2="312.5" stroke="#8a8a8a" stroke-width="0.8"/>
<line x1="111.92" y1="369.5" x2="111.92" y2="368.0" stroke="#8a8a8a" stroke-width="0.8"/>
<line x1="111.92" y1="308.5" x2="111.92" y2="310.0" stroke="#8a8a8a" stroke-width="0.8"/>
<line x1="117.59" y1="369.5" x2="117.59" y2="368.0" stroke="#8a8a8a" stroke-width="0.8"/>
<line x1="117.59" y1="308.5" x2="117.59" y2="310.0" stroke="#8a8a8a" stroke-width="0.8"/>
<line x1="123.27" y1="369.5" x2="123.27" y2="368.0" stroke="#8a8a8a" stroke-width="0.8"/>
<line x1="123.27" y1="308.5" x2="123.27" y2="310.0" stroke="#8a8a8a" stroke-width="0.8"/>
<line x1="128.94" y1="369.5" x2="128.94" y2="368.0" stroke="#8a8a8a" stroke-width="0.8"/>
<line x1="128.94" y1="308.5" x2="128.94" y2="310.0" stroke="#8a8a8a" stroke-width="0.8"/>
<line x1="134.62" y1="369.5" x2="134.62" y2="368.0" stroke="#8a8a8a" stroke-width="0.8"/>
<line x1="134.62" y1="308.5" x2="134.62" y2="310.0" stroke="#8a8a8a" stroke-width="0.8"/>
<line x1="140.29" y1="369.5" x2="140.29" y2="368.0" stroke="#8a8a8a" stroke-width="0.8"/>
<line x1="140.29" y1="308.5" x2="140.29" y2="310.0" stroke="#8a8a8a" stroke-width="0.8"/>
<line x1="145.97" y1="369.5" x2="145.97" y2="368.0" stroke="#8a8a8a" stroke-width="0.8"/>
<line x1="145.97" y1="308.5" x2="145.97" y2="310.0" stroke="#8a8a8a" stroke-width="0.8"/>
<line x1="151.64" y1="369.5" x2="151.64" y2="368.0" stroke="#8a8a8a" stroke-width="0.8"/>
<line x1="151.64" y1="308.5" x2="151.64" y2="310.0" stroke="#8a8a8a" stroke-width="0.8"/>
<line x1="157.31" y1="369.5" x2="157.31" y2="368.0" stroke="#8a8a8a" stroke-width="0.8"/>
<line x1="157.31" y1="308.5" x2="157.31" y2="310.0" stroke="#8a8a8a" stroke-width="0.8"/>
<line x1="162.99" y1="369.5" x2="162.99" y2="365.5" stroke="#8a8a8a" stroke-width="0.8"/>
<line x1="162.99" y1="308.5" x2="162.99" y2="312.5" stroke="#8a8a8a" stroke-width="0.8"/>
<line x1="168.66" y1="369.5" x2="168.66" y2="368.0" stroke="#8a8a8a" stroke-width="0.8"/>
<line x1="168.66" y1="308.5" x2="168.66" y2="310.0" stroke="#8a8a8a" stroke-width="0.8"/>
<line x1="174.34" y1="369.5" x2="174.34" y2="368.0" stroke="#8a8a8a" stroke-width="0.8"/>
<line x1="174.34" y1="308.5" x2="174.34" y2="310.0" stroke="#8a8a8a" stroke-width="0.8"/>
<line x1="180.01" y1="369.5" x2="180.01" y2="368.0" stroke="#8a8a8a" stroke-width="0.8"/>
<line x1="180.01" y1="308.5" x2="180.01" y2="310.0" stroke="#8a8a8a" stroke-width="0.8"/>
<line x1="185.69" y1="369.5" x2="185.69" y2="368.0" stroke="#8a8a8a" stroke-width="0.8"/>
<line x1="185.69" y1="308.5" x2="185.69" y2="310.0" stroke="#8a8a8a" stroke-width="0.8"/>
<line x1="191.36" y1="369.5" x2="191.36" y2="368.0" stroke="#8a8a8a" stroke-width="0.8"/>
<line x1="191.36" y1="308.5" x2="191.36" y2="310.0" stroke="#8a8a8a" stroke-width="0.8"/>
<line x1="197.03" y1="369.5" x2="197.03" y2="368.0" stroke="#8a8a8a" stroke-width="0.8"/>
<line x1="197.03" y1="308.5" x2="197.03" y2="310.0" stroke="#8a8a8a" stroke-width="0.8"/>
<line x1="202.71" y1="369.5" x2="202.71" y2="368.0" stroke="#8a8a8a" stroke-width="0.8"/>
<line x1="202.71" y1="308.5" x2="202.71" y2="310.0" stroke="#8a8a8a" stroke-width="0.8"/>
<line x1="208.38" y1="369.5" x2="208.38" y2="368.0" stroke="#8a8a8a" stroke-width="0.8"/>
<line x1="208.38" y1="308.5" x2="208.38" y2="310.0" stroke="#8a8a8a" stroke-width="0.8"/>
<line x1="214.06" y1="369.5" x2="214.06" y2="368.0" stroke="#8a8a8a" stroke-width="0.8"/>
<line x1="214.06" y1="308.5" x2="214.06" y2="310.0" stroke="#8a8a8a" stroke-width="0.8"/>
<line x1="219.73" y1="369.5" x2="219.73" y2="365.5" stroke="#8a8a8a" stroke-width="0.8"/>
<line x1="219.73" y1="308.5" x2="219.73" y2="312.5" stroke="#8a8a8a" stroke-width="0.8"/>
<line x1="225.41" y1="369.5" x2="225.41" y2="368.0" stroke="#8a8a8a" stroke-width="0.8"/>
<line x1="225.41" y1="308.5" x2="225.41" y2="310.0" stroke="#8a8a8a" stroke-width="0.8"/>
<line x1="231.08" y1="369.5" x2="231.08" y2="368.0" stroke="#8a8a8a" stroke-width="0.8"/>
<line x1="231.08" y1="308.5" x2="231.08" y2="310.0" stroke="#8a8a8a" stroke-width="0.8"/>
<line x1="236.76" y1="369.5" x2="236.76" y2="368.0" stroke="#8a8a8a" stroke-width="0.8"/>
<line x1="236.76" y1="308.5" x2="236.76" y2="310.0" stroke="#8a8a8a" stroke-width="0.8"/>
<line x1="242.43" y1="369.5" x2="242.43" y2="368.0" stroke="#8a8a8a" stroke-width="0.8"/>
<line x1="242.43" y1="308.5" x2="242.43" y2="310.0" stroke="#8a8a8a" stroke-width="0.8"/>
<line x1="248.10" y1="369.5" x2="248.10" y2="368.0" stroke="#8a8a8a" stroke-width="0.8"/>
<line x1="248.10" y1="308.5" x2="248.10" y2="310.0" stroke="#8a8a8a" stroke-width="0.8"/>
<line x1="253.78" y1="369.5" x2="253.78" y2="368.0" stroke="#8a8a8a" stroke-width="0.8"/>
<line x1="253.78" y1="308.5" x2="253.78" y2="310.0" stroke="#8a8a8a" stroke-width="0.8"/>
<line x1="259.45" y1="369.5" x2="259.45" y2="368.0" stroke="#8a8a8a" stroke-width="0.8"/>
<line x1="259.45" y1="308.5" x2="259.45" y2="310.0" stroke="#8a8a8a" stroke-width="0.8"/>
<line x1="265.13" y1="369.5" x2="265.13" y2="368.0" stroke="#8a8a8a" stroke-width="0.8"/>
<line x1="265.13" y1="308.5" x2="265.13" y2="310.0" stroke="#8a8a8a" stroke-width="0.8"/>
<line x1="270.80" y1="369.5" x2="270.80" y2="368.0" stroke="#8a8a8a" stroke-width="0.8"/>
<line x1="270.80" y1="308.5" x2="270.80" y2="310.0" stroke="#8a8a8a" stroke-width="0.8"/>
<line x1="276.48" y1="369.5" x2="276.48" y2="365.5" stroke="#8a8a8a" stroke-width="0.8"/>
<line x1="276.48" y1="308.5" x2="276.48" y2="312.5" stroke="#8a8a8a" stroke-width="0.8"/>
<line x1="282.15" y1="369.5" x2="282.15" y2="368.0" stroke="#8a8a8a" stroke-width="0.8"/>
<line x1="282.15" y1="308.5" x2="282.15" y2="310.0" stroke="#8a8a8a" stroke-width="0.8"/>
<line x1="287.83" y1="369.5" x2="287.83" y2="368.0" stroke="#8a8a8a" stroke-width="0.8"/>
<line x1="287.83" y1="308.5" x2="287.83" y2="310.0" stroke="#8a8a8a" stroke-width="0.8"/>
<line x1="293.50" y1="369.5" x2="293.50" y2="368.0" stroke="#8a8a8a" stroke-width="0.8"/>
<line x1="293.50" y1="308.5" x2="293.50" y2="310.0" stroke="#8a8a8a" stroke-width="0.8"/>
<rect x="49.5" y="308.5" width="244.0" height="61.0" fill="none" stroke="#9a9a9a" stroke-width="1"/>
<text x="45.8" y="316.5" text-anchor="end" font-family='"Liberation Sans", sans-serif' font-size="11.2" fill="#454545" letter-spacing="1">8</text>
<text x="45.8" y="329" text-anchor="end" font-family='"Liberation Sans", sans-serif' font-size="11.2" fill="#454545" letter-spacing="1">6</text>
<text x="45.8" y="344.4" text-anchor="end" font-family='"Liberation Sans", sans-serif' font-size="11.2" fill="#454545" letter-spacing="1">4</text>
<text x="45.8" y="359.6" text-anchor="end" font-family='"Liberation Sans", sans-serif' font-size="11.2" fill="#454545" letter-spacing="1">2</text>
<text x="45.8" y="370.4" text-anchor="end" font-family='"Liberation Sans", sans-serif' font-size="11.2" fill="#454545" letter-spacing="1">0</text>
<text x="106.7" y="386.4" text-anchor="middle" font-family='"Liberation Sans", sans-serif' font-size="11.2" fill="#454545" letter-spacing="1">1</text>
<text x="163.5" y="386.4" text-anchor="middle" font-family='"Liberation Sans", sans-serif' font-size="11.2" fill="#454545" letter-spacing="1">2</text>
<text x="220.2" y="386.4" text-anchor="middle" font-family='"Liberation Sans", sans-serif' font-size="11.2" fill="#454545" letter-spacing="1">3</text>
<text x="277.0" y="386.4" text-anchor="middle" font-family='"Liberation Sans", sans-serif' font-size="11.2" fill="#454545" letter-spacing="1">4</text>
<text x="170.8" y="401.7" text-anchor="middle" font-family='"Liberation Sans", sans-serif' font-size="11.5" fill="#454545">t</text>
<text transform="translate(28.5,340.3) rotate(-90)" text-anchor="middle" font-family='"Liberation Sans", sans-serif' font-size="13.5" fill="#454545"><tspan font-style="italic">ρ</tspan>(t)</text>
<polyline points="49.5,362.5 197.0,362.5 197.0,362.5 197.7,362.2 198.4,362.0 199.1,362.2 199.8,362.5 200.5,362.9 201.2,363.1 201.9,362.9 202.6,362.5 203.3,362.1 204.0,361.8 204.7,362.0 205.4,362.5 206.1,363.0 206.8,363.3 207.5,363.1 208.2,362.5 208.9,361.9 209.6,361.6 210.3,361.9 211.0,362.5 211.7,363.2 212.4,363.5 213.1,363.2 213.8,362.5 214.5,361.8 215.2,361.4 215.9,361.7 216.6,362.5 217.3,363.3 218.0,363.7 218.7,363.4 219.4,362.5 220.1,361.6 220.8,361.2 221.5,361.6 222.2,362.5 222.9,363.5 223.6,363.9 224.3,363.5 225.0,362.5 225.7,361.5 226.4,361.0 227.1,361.4 227.8,362.5 228.5,363.6 229.2,364.1 229.9,363.6 230.6,362.5 231.3,361.3 232.0,360.8 232.7,361.3 233.4,362.5 234.1,363.8 234.8,364.3 235.5,363.8 236.2,362.5 236.9,361.2 237.6,360.6 238.3,361.1 239.0,362.5 239.7,363.9 240.0,364.6 241.3,362.3 242.8,360.7 243.9,365.4 245.5,362.3 247.1,360.7 248.6,365.4 250.2,361.5 252.2,359.1 253.8,363.8 254.9,359.1 255.7,365.4 257.3,360.7 258.8,357.5 260.1,363.8 261.6,359.9 263.2,362.3 264.3,360.7 265.4,359.6 266.7,361.2 268.2,359.1 269.8,360.2 271.4,359.6 274.5,359.6 276.9,359.1 278.4,359.9 283.9,359.6 288.9,359.6 289.4,330.1 291.0,328.5 292.1,331.7 293.3,320.7" fill="none" stroke="#2a2a2a" stroke-width="1.0" stroke-linejoin="round"/>
<line x1="57.4" y1="314" x2="57.4" y2="326.6" stroke="#383838" stroke-width="1.15" fill="none" stroke-linecap="round"/><ellipse cx="61.3" cy="322.4" rx="3.9" ry="4.5" stroke="#383838" stroke-width="1.15" fill="none" stroke-linecap="round"/><path d="M68.5,311.3 Q78.2,321.3 68.8,331.4" stroke="#383838" stroke-width="1.15" fill="none" stroke-linecap="round"/>
<line x1="49.5" y1="466.50" x2="53.5" y2="466.50" stroke="#8a8a8a" stroke-width="0.8"/>
<line x1="293.5" y1="466.50" x2="289.5" y2="466.50" stroke="#8a8a8a" stroke-width="0.8"/>
<line x1="49.5" y1="464.55" x2="51.5" y2="464.55" stroke="#8a8a8a" stroke-width="0.8"/>
<line x1="293.5" y1="464.55" x2="291.5" y2="464.55" stroke="#8a8a8a" stroke-width="0.8"/>
<line x1="49.5" y1="462.60" x2="51.5" y2="462.60" stroke="#8a8a8a" stroke-width="0.8"/>
<line x1="293.5" y1="462.60" x2="291.5" y2="462.60" stroke="#8a8a8a" stroke-width="0.8"/>
<line x1="49.5" y1="460.65" x2="51.5" y2="460.65" stroke="#8a8a8a" stroke-width="0.8"/>
<line x1="293.5" y1="460.65" x2="291.5" y2="460.65" stroke="#8a8a8a" stroke-width="0.8"/>
<line x1="49.5" y1="458.70" x2="51.5" y2="458.70" stroke="#8a8a8a" stroke-width="0.8"/>
<line x1="293.5" y1="458.70" x2="291.5" y2="458.70" stroke="#8a8a8a" stroke-width="0.8"/>
<line x1="49.5" y1="456.75" x2="51.5" y2="456.75" stroke="#8a8a8a" stroke-width="0.8"/>
<line x1="293.5" y1="456.75" x2="291.5" y2="456.75" stroke="#8a8a8a" stroke-width="0.8"/>
<line x1="49.5" y1="454.80" x2="51.5" y2="454.80" stroke="#8a8a8a" stroke-width="0.8"/>
<line x1="293.5" y1="454.80" x2="291.5" y2="454.80" stroke="#8a8a8a" stroke-width="0.8"/>
<line x1="49.5" y1="452.85" x2="51.5" y2="452.85" stroke="#8a8a8a" stroke-width="0.8"/>
<line x1="293.5" y1="452.85" x2="291.5" y2="452.85" stroke="#8a8a8a" stroke-width="0.8"/>
<line x1="49.5" y1="450.90" x2="51.5" y2="450.90" stroke="#8a8a8a" stroke-width="0.8"/>
<line x1="293.5" y1="450.90" x2="291.5" y2="450.90" stroke="#8a8a8a" stroke-width="0.8"/>
<line x1="49.5" y1="448.95" x2="51.5" y2="448.95" stroke="#8a8a8a" stroke-width="0.8"/>
<line x1="293.5" y1="448.95" x2="291.5" y2="448.95" stroke="#8a8a8a" stroke-width="0.8"/>
<line x1="49.5" y1="447.00" x2="53.5" y2="447.00" stroke="#8a8a8a" stroke-width="0.8"/>
<line x1="293.5" y1="447.00" x2="289.5" y2="447.00" stroke="#8a8a8a" stroke-width="0.8"/>
<line x1="49.5" y1="445.05" x2="51.5" y2="445.05" stroke="#8a8a8a" stroke-width="0.8"/>
<line x1="293.5" y1="445.05" x2="291.5" y2="445.05" stroke="#8a8a8a" stroke-width="0.8"/>
<line x1="49.5" y1="443.10" x2="51.5" y2="443.10" stroke="#8a8a8a" stroke-width="0.8"/>
<line x1="293.5" y1="443.10" x2="291.5" y2="443.10" stroke="#8a8a8a" stroke-width="0.8"/>
<line x1="49.5" y1="441.15" x2="51.5" y2="441.15" stroke="#8a8a8a" stroke-width="0.8"/>
<line x1="293.5" y1="441.15" x2="291.5" y2="441.15" stroke="#8a8a8a" stroke-width="0.8"/>
<line x1="49.5" y1="439.20" x2="51.5" y2="439.20" stroke="#8a8a8a" stroke-width="0.8"/>
<line x1="293.5" y1="439.20" x2="291.5" y2="439.20" stroke="#8a8a8a" stroke-width="0.8"/>
<line x1="49.5" y1="437.25" x2="51.5" y2="437.25" stroke="#8a8a8a" stroke-width="0.8"/>
<line x1="293.5" y1="437.25" x2="291.5" y2="437.25" stroke="#8a8a8a" stroke-width="0.8"/>
<line x1="49.5" y1="435.30" x2="51.5" y2="435.30" stroke="#8a8a8a" stroke-width="0.8"/>
<line x1="293.5" y1="435.30" x2="291.5" y2="435.30" stroke="#8a8a8a" stroke-width="0.8"/>
<line x1="49.5" y1="433.35" x2="51.5" y2="433.35" stroke="#8a8a8a" stroke-width="0.8"/>
<line x1="293.5" y1="433.35" x2="291.5" y2="433.35" stroke="#8a8a8a" stroke-width="0.8"/>
<line x1="49.5" y1="431.40" x2="51.5" y2="431.40" stroke="#8a8a8a" stroke-width="0.8"/>
<line x1="293.5" y1="431.40" x2="291.5" y2="431.40" stroke="#8a8a8a" stroke-width="0.8"/>
<line x1="49.5" y1="429.45" x2="51.5" y2="429.45" stroke="#8a8a8a" stroke-width="0.8"/>
<line x1="293.5" y1="429.45" x2="291.5" y2="429.45" stroke="#8a8a8a" stroke-width="0.8"/>
<line x1="49.5" y1="427.50" x2="53.5" y2="427.50" stroke="#8a8a8a" stroke-width="0.8"/>
<line x1="293.5" y1="427.50" x2="289.5" y2="427.50" stroke="#8a8a8a" stroke-width="0.8"/>
<line x1="49.5" y1="425.55" x2="51.5" y2="425.55" stroke="#8a8a8a" stroke-width="0.8"/>
<line x1="293.5" y1="425.55" x2="291.5" y2="425.55" stroke="#8a8a8a" stroke-width="0.8"/>
<line x1="49.5" y1="423.60" x2="51.5" y2="423.60" stroke="#8a8a8a" stroke-width="0.8"/>
<line x1="293.5" y1="423.60" x2="291.5" y2="423.60" stroke="#8a8a8a" stroke-width="0.8"/>
<line x1="49.5" y1="421.65" x2="51.5" y2="421.65" stroke="#8a8a8a" stroke-width="0.8"/>
<line x1="293.5" y1="421.65" x2="291.5" y2="421.65" stroke="#8a8a8a" stroke-width="0.8"/>
<line x1="49.5" y1="419.70" x2="51.5" y2="419.70" stroke="#8a8a8a" stroke-width="0.8"/>
<line x1="293.5" y1="419.70" x2="291.5" y2="419.70" stroke="#8a8a8a" stroke-width="0.8"/>
<line x1="49.5" y1="417.75" x2="51.5" y2="417.75" stroke="#8a8a8a" stroke-width="0.8"/>
<line x1="293.5" y1="417.75" x2="291.5" y2="417.75" stroke="#8a8a8a" stroke-width="0.8"/>
<line x1="49.5" y1="415.80" x2="51.5" y2="415.80" stroke="#8a8a8a" stroke-width="0.8"/>
<line x1="293.5" y1="415.80" x2="291.5" y2="415.80" stroke="#8a8a8a" stroke-width="0.8"/>
<line x1="49.5" y1="413.85" x2="51.5" y2="413.85" stroke="#8a8a8a" stroke-width="0.8"/>
<line x1="293.5" y1="413.85" x2="291.5" y2="413.85" stroke="#8a8a8a" stroke-width="0.8"/>
<line x1="49.5" y1="411.90" x2="51.5" y2="411.90" stroke="#8a8a8a" stroke-width="0.8"/>
<line x1="293.5" y1="411.90" x2="291.5" y2="411.90" stroke="#8a8a8a" stroke-width="0.8"/>
<line x1="49.5" y1="409.95" x2="51.5" y2="409.95" stroke="#8a8a8a" stroke-width="0.8"/>
<line x1="293.5" y1="409.95" x2="291.5" y2="409.95" stroke="#8a8a8a" stroke-width="0.8"/>
<line x1="49.5" y1="408.00" x2="53.5" y2="408.00" stroke="#8a8a8a" stroke-width="0.8"/>
<line x1="293.5" y1="408.00" x2="289.5" y2="408.00" stroke="#8a8a8a" stroke-width="0.8"/>
<line x1="49.50" y1="466.5" x2="49.50" y2="462.5" stroke="#8a8a8a" stroke-width="0.8"/>
<line x1="49.50" y1="408" x2="49.50" y2="412" stroke="#8a8a8a" stroke-width="0.8"/>
<line x1="55.17" y1="466.5" x2="55.17" y2="465.0" stroke="#8a8a8a" stroke-width="0.8"/>
<line x1="55.17" y1="408" x2="55.17" y2="409.5" stroke="#8a8a8a" stroke-width="0.8"/>
<line x1="60.85" y1="466.5" x2="60.85" y2="465.0" stroke="#8a8a8a" stroke-width="0.8"/>
<line x1="60.85" y1="408" x2="60.85" y2="409.5" stroke="#8a8a8a" stroke-width="0.8"/>
<line x1="66.52" y1="466.5" x2="66.52" y2="465.0" stroke="#8a8a8a" stroke-width="0.8"/>
<line x1="66.52" y1="408" x2="66.52" y2="409.5" stroke="#8a8a8a" stroke-width="0.8"/>
<line x1="72.20" y1="466.5" x2="72.20" y2="465.0" stroke="#8a8a8a" stroke-width="0.8"/>
<line x1="72.20" y1="408" x2="72.20" y2="409.5" stroke="#8a8a8a" stroke-width="0.8"/>
<line x1="77.87" y1="466.5" x2="77.87" y2="465.0" stroke="#8a8a8a" stroke-width="0.8"/>
<line x1="77.87" y1="408" x2="77.87" y2="409.5" stroke="#8a8a8a" stroke-width="0.8"/>
<line x1="83.55" y1="466.5" x2="83.55" y2="465.0" stroke="#8a8a8a" stroke-width="0.8"/>
<line x1="83.55" y1="408" x2="83.55" y2="409.5" stroke="#8a8a8a" stroke-width="0.8"/>
<line x1="89.22" y1="466.5" x2="89.22" y2="465.0" stroke="#8a8a8a" stroke-width="0.8"/>
<line x1="89.22" y1="408" x2="89.22" y2="409.5" stroke="#8a8a8a" stroke-width="0.8"/>
<line x1="94.90" y1="466.5" x2="94.90" y2="465.0" stroke="#8a8a8a" stroke-width="0.8"/>
<line x1="94.90" y1="408" x2="94.90" y2="409.5" stroke="#8a8a8a" stroke-width="0.8"/>
<line x1="100.57" y1="466.5" x2="100.57" y2="465.0" stroke="#8a8a8a" stroke-width="0.8"/>
<line x1="100.57" y1="408" x2="100.57" y2="409.5" stroke="#8a8a8a" stroke-width="0.8"/>
<line x1="106.24" y1="466.5" x2="106.24" y2="462.5" stroke="#8a8a8a" stroke-width="0.8"/>
<line x1="106.24" y1="408" x2="106.24" y2="412" stroke="#8a8a8a" stroke-width="0.8"/>
<line x1="111.92" y1="466.5" x2="111.92" y2="465.0" stroke="#8a8a8a" stroke-width="0.8"/>
<line x1="111.92" y1="408" x2="111.92" y2="409.5" stroke="#8a8a8a" stroke-width="0.8"/>
<line x1="117.59" y1="466.5" x2="117.59" y2="465.0" stroke="#8a8a8a" stroke-width="0.8"/>
<line x1="117.59" y1="408" x2="117.59" y2="409.5" stroke="#8a8a8a" stroke-width="0.8"/>
<line x1="123.27" y1="466.5" x2="123.27" y2="465.0" stroke="#8a8a8a" stroke-width="0.8"/>
<line x1="123.27" y1="408" x2="123.27" y2="409.5" stroke="#8a8a8a" stroke-width="0.8"/>
<line x1="128.94" y1="466.5" x2="128.94" y2="465.0" stroke="#8a8a8a" stroke-width="0.8"/>
<line x1="128.94" y1="408" x2="128.94" y2="409.5" stroke="#8a8a8a" stroke-width="0.8"/>
<line x1="134.62" y1="466.5" x2="134.62" y2="465.0" stroke="#8a8a8a" stroke-width="0.8"/>
<line x1="134.62" y1="408" x2="134.62" y2="409.5" stroke="#8a8a8a" stroke-width="0.8"/>
<line x1="140.29" y1="466.5" x2="140.29" y2="465.0" stroke="#8a8a8a" stroke-width="0.8"/>
<line x1="140.29" y1="408" x2="140.29" y2="409.5" stroke="#8a8a8a" stroke-width="0.8"/>
<line x1="145.97" y1="466.5" x2="145.97" y2="465.0" stroke="#8a8a8a" stroke-width="0.8"/>
<line x1="145.97" y1="408" x2="145.97" y2="409.5" stroke="#8a8a8a" stroke-width="0.8"/>
<line x1="151.64" y1="466.5" x2="151.64" y2="465.0" stroke="#8a8a8a" stroke-width="0.8"/>
<line x1="151.64" y1="408" x2="151.64" y2="409.5" stroke="#8a8a8a" stroke-width="0.8"/>
<line x1="157.31" y1="466.5" x2="157.31" y2="465.0" stroke="#8a8a8a" stroke-width="0.8"/>
<line x1="157.31" y1="408" x2="157.31" y2="409.5" stroke="#8a8a8a" stroke-width="0.8"/>
<line x1="162.99" y1="466.5" x2="162.99" y2="462.5" stroke="#8a8a8a" stroke-width="0.8"/>
<line x1="162.99" y1="408" x2="162.99" y2="412" stroke="#8a8a8a" stroke-width="0.8"/>
<line x1="168.66" y1="466.5" x2="168.66" y2="465.0" stroke="#8a8a8a" stroke-width="0.8"/>
<line x1="168.66" y1="408" x2="168.66" y2="409.5" stroke="#8a8a8a" stroke-width="0.8"/>
<line x1="174.34" y1="466.5" x2="174.34" y2="465.0" stroke="#8a8a8a" stroke-width="0.8"/>
<line x1="174.34" y1="408" x2="174.34" y2="409.5" stroke="#8a8a8a" stroke-width="0.8"/>
<line x1="180.01" y1="466.5" x2="180.01" y2="465.0" stroke="#8a8a8a" stroke-width="0.8"/>
<line x1="180.01" y1="408" x2="180.01" y2="409.5" stroke="#8a8a8a" stroke-width="0.8"/>
<line x1="185.69" y1="466.5" x2="185.69" y2="465.0" stroke="#8a8a8a" stroke-width="0.8"/>
<line x1="185.69" y1="408" x2="185.69" y2="409.5" stroke="#8a8a8a" stroke-width="0.8"/>
<line x1="191.36" y1="466.5" x2="191.36" y2="465.0" stroke="#8a8a8a" stroke-width="0.8"/>
<line x1="191.36" y1="408" x2="191.36" y2="409.5" stroke="#8a8a8a" stroke-width="0.8"/>
<line x1="197.03" y1="466.5" x2="197.03" y2="465.0" stroke="#8a8a8a" stroke-width="0.8"/>
<line x1="197.03" y1="408" x2="197.03" y2="409.5" stroke="#8a8a8a" stroke-width="0.8"/>
<line x1="202.71" y1="466.5" x2="202.71" y2="465.0" stroke="#8a8a8a" stroke-width="0.8"/>
<line x1="202.71" y1="408" x2="202.71" y2="409.5" stroke="#8a8a8a" stroke-width="0.8"/>
<line x1="208.38" y1="466.5" x2="208.38" y2="465.0" stroke="#8a8a8a" stroke-width="0.8"/>
<line x1="208.38" y1="408" x2="208.38" y2="409.5" stroke="#8a8a8a" stroke-width="0.8"/>
<line x1="214.06" y1="466.5" x2="214.06" y2="465.0" stroke="#8a8a8a" stroke-width="0.8"/>
<line x1="214.06" y1="408" x2="214.06" y2="409.5" stroke="#8a8a8a" stroke-width="0.8"/>
<line x1="219.73" y1="466.5" x2="219.73" y2="462.5" stroke="#8a8a8a" stroke-width="0.8"/>
<line x1="219.73" y1="408" x2="219.73" y2="412" stroke="#8a8a8a" stroke-width="0.8"/>
<line x1="225.41" y1="466.5" x2="225.41" y2="465.0" stroke="#8a8a8a" stroke-width="0.8"/>
<line x1="225.41" y1="408" x2="225.41" y2="409.5" stroke="#8a8a8a" stroke-width="0.8"/>
<line x1="231.08" y1="466.5" x2="231.08" y2="465.0" stroke="#8a8a8a" stroke-width="0.8"/>
<line x1="231.08" y1="408" x2="231.08" y2="409.5" stroke="#8a8a8a" stroke-width="0.8"/>
<line x1="236.76" y1="466.5" x2="236.76" y2="465.0" stroke="#8a8a8a" stroke-width="0.8"/>
<line x1="236.76" y1="408" x2="236.76" y2="409.5" stroke="#8a8a8a" stroke-width="0.8"/>
<line x1="242.43" y1="466.5" x2="242.43" y2="465.0" stroke="#8a8a8a" stroke-width="0.8"/>
<line x1="242.43" y1="408" x2="242.43" y2="409.5" stroke="#8a8a8a" stroke-width="0.8"/>
<line x1="248.10" y1="466.5" x2="248.10" y2="465.0" stroke="#8a8a8a" stroke-width="0.8"/>
<line x1="248.10" y1="408" x2="248.10" y2="409.5" stroke="#8a8a8a" stroke-width="0.8"/>
<line x1="253.78" y1="466.5" x2="253.78" y2="465.0" stroke="#8a8a8a" stroke-width="0.8"/>
<line x1="253.78" y1="408" x2="253.78" y2="409.5" stroke="#8a8a8a" stroke-width="0.8"/>
<line x1="259.45" y1="466.5" x2="259.45" y2="465.0" stroke="#8a8a8a" stroke-width="0.8"/>
<line x1="259.45" y1="408" x2="259.45" y2="409.5" stroke="#8a8a8a" stroke-width="0.8"/>
<line x1="265.13" y1="466.5" x2="265.13" y2="465.0" stroke="#8a8a8a" stroke-width="0.8"/>
<line x1="265.13" y1="408" x2="265.13" y2="409.5" stroke="#8a8a8a" stroke-width="0.8"/>
<line x1="270.80" y1="466.5" x2="270.80" y2="465.0" stroke="#8a8a8a" stroke-width="0.8"/>
<line x1="270.80" y1="408" x2="270.80" y2="409.5" stroke="#8a8a8a" stroke-width="0.8"/>
<line x1="276.48" y1="466.5" x2="276.48" y2="462.5" stroke="#8a8a8a" stroke-width="0.8"/>
<line x1="276.48" y1="408" x2="276.48" y2="412" stroke="#8a8a8a" stroke-width="0.8"/>
<line x1="282.15" y1="466.5" x2="282.15" y2="465.0" stroke="#8a8a8a" stroke-width="0.8"/>
<line x1="282.15" y1="408" x2="282.15" y2="409.5" stroke="#8a8a8a" stroke-width="0.8"/>
<line x1="287.83" y1="466.5" x2="287.83" y2="465.0" stroke="#8a8a8a" stroke-width="0.8"/>
<line x1="287.83" y1="408" x2="287.83" y2="409.5" stroke="#8a8a8a" stroke-width="0.8"/>
<line x1="293.50" y1="466.5" x2="293.50" y2="465.0" stroke="#8a8a8a" stroke-width="0.8"/>
<line x1="293.50" y1="408" x2="293.50" y2="409.5" stroke="#8a8a8a" stroke-width="0.8"/>
<rect x="49.5" y="408" width="244.0" height="58.5" fill="none" stroke="#9a9a9a" stroke-width="1"/>
<text x="45.8" y="416.2" text-anchor="end" font-family='"Liberation Sans", sans-serif' font-size="11.2" fill="#454545" letter-spacing="1">30</text>
<text x="45.8" y="432.9" text-anchor="end" font-family='"Liberation Sans", sans-serif' font-size="11.2" fill="#454545" letter-spacing="1">20</text>
<text x="45.8" y="451.9" text-anchor="end" font-family='"Liberation Sans", sans-serif' font-size="11.2" fill="#454545" letter-spacing="1">10</text>
<text x="45.8" y="467.4" text-anchor="end" font-family='"Liberation Sans", sans-serif' font-size="11.2" fill="#454545" letter-spacing="1">0</text>
<text x="106.7" y="484" text-anchor="middle" font-family='"Liberation Sans", sans-serif' font-size="11.2" fill="#454545" letter-spacing="1">1</text>
<text x="163.5" y="484" text-anchor="middle" font-family='"Liberation Sans", sans-serif' font-size="11.2" fill="#454545" letter-spacing="1">2</text>
<text x="220.2" y="484" text-anchor="middle" font-family='"Liberation Sans", sans-serif' font-size="11.2" fill="#454545" letter-spacing="1">3</text>
<text x="277.0" y="484" text-anchor="middle" font-family='"Liberation Sans", sans-serif' font-size="11.2" fill="#454545" letter-spacing="1">4</text>
<text x="170.8" y="498.3" text-anchor="middle" font-family='"Liberation Sans", sans-serif' font-size="11.5" fill="#454545">t</text>
<text transform="translate(21.4,438.3) rotate(-90)" text-anchor="middle" font-family='"Liberation Sans", sans-serif' font-size="13.5" fill="#454545"><tspan font-style="italic">ρ</tspan>(t)</text>
<polyline points="49.5,456.5 205.0,456.5 210.6,455.9 213.4,455.5 214.5,455.1 216.2,456.2 219.0,454.1 220.4,455.5 222.5,456.9 224.6,450.9 226.0,454.8 227.8,459.0 229.1,456.2 230.6,450.3 231.6,453.4 232.7,458.3 234.4,456.9 235.8,458.3 236.9,455.1 238.6,456.9 240.7,456.2 241.7,454.5 242.8,459.0 244.2,456.2 246.3,453.4 247.5,427.4 248.5,445.6 249.9,458.2 251.3,457.5 252.7,445.6 253.7,433.7 254.8,442.1 256.2,438.6 257.3,445.6 258.3,440.0 259.0,444.2 260.1,437.2 261.1,439.3 261.8,433.0 262.5,442.8 263.2,435.1 264.3,433.0 265.3,430.9 266.0,428.1 267.1,416.9 268.1,423.9 269.1,424.6 270.2,428.1 271.6,425.3 272.3,432.3 273.7,426.7 275.1,427.4 276.5,426.0 277.5,424.6 278.6,427.1 280.7,426.7 282.5,427.4 283.9,423.2 285.6,419.0 286.7,419.0 288.4,422.5 289.8,424.6 293.5,425.3" fill="none" stroke="#2a2a2a" stroke-width="1.0" stroke-linejoin="round"/>
<path d="M63.73,419.48 A4.1,4.9 0 1 0 63.73,425.52" stroke="#383838" stroke-width="1.15" fill="none" stroke-linecap="round"/><path d="M68.2,411.3 Q77.8,421.3 68.2,431.4" stroke="#383838" stroke-width="1.15" fill="none" stroke-linecap="round"/>
</svg></body></html>
